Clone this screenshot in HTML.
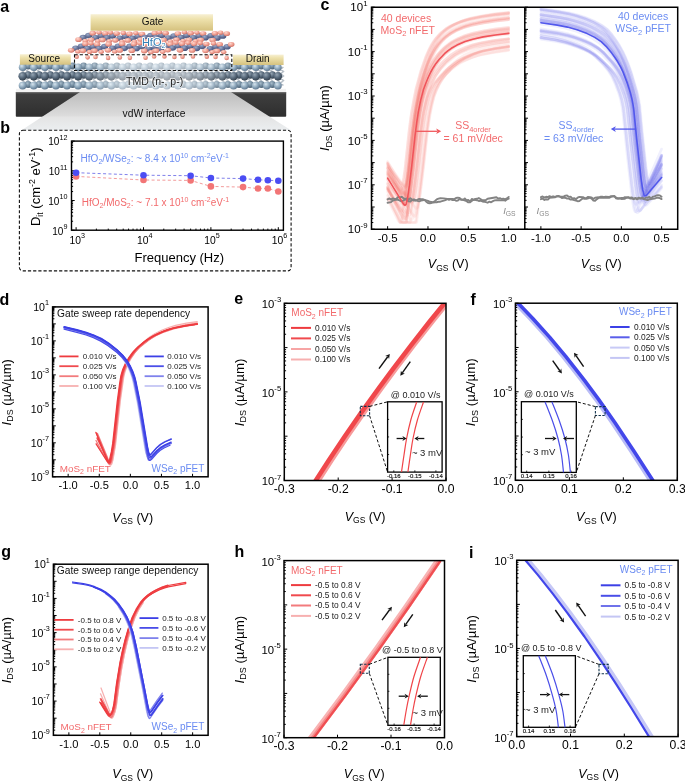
<!DOCTYPE html>
<html><head><meta charset="utf-8"><style>
html,body{margin:0;padding:0;background:#fff;}
svg{display:block;font-family:"Liberation Sans", sans-serif;will-change:transform;}
</style></head><body>
<svg width="685" height="781" viewBox="0 0 685 781">
<rect width="685" height="781" fill="#fff"/>
<defs>
<linearGradient id="gold" x1="0" y1="0" x2="0" y2="1"><stop offset="0" stop-color="#f7f0d4"/><stop offset="0.3" stop-color="#eee2ad"/><stop offset="1" stop-color="#d5c17e"/></linearGradient>
<linearGradient id="subs" x1="0" y1="0" x2="0" y2="1"><stop offset="0" stop-color="#4e4e4e"/><stop offset="0.1" stop-color="#3e3e3e"/><stop offset="1" stop-color="#2e2e2e"/></linearGradient>
<linearGradient id="trap" x1="0" y1="0" x2="0" y2="1"><stop offset="0" stop-color="#bcbcbc"/><stop offset="0.62" stop-color="#dcdcdc"/><stop offset="0.66" stop-color="#e4e4e4"/><stop offset="1" stop-color="#ebeef0"/></linearGradient>
<radialGradient id="aL" cx="0.38" cy="0.32" r="0.7"><stop offset="0" stop-color="#d6e4ee"/><stop offset="0.55" stop-color="#8fa9bd"/><stop offset="1" stop-color="#5f7890"/></radialGradient>
<radialGradient id="aL2" cx="0.38" cy="0.32" r="0.7"><stop offset="0" stop-color="#a8bccb"/><stop offset="0.55" stop-color="#6f889c"/><stop offset="1" stop-color="#4d6274"/></radialGradient>
<radialGradient id="aD" cx="0.38" cy="0.32" r="0.7"><stop offset="0" stop-color="#95a4b2"/><stop offset="0.55" stop-color="#56687a"/><stop offset="1" stop-color="#34414e"/></radialGradient>
<radialGradient id="aP" cx="0.38" cy="0.32" r="0.7"><stop offset="0" stop-color="#ffd8cf"/><stop offset="0.55" stop-color="#f0a092"/><stop offset="1" stop-color="#d07468"/></radialGradient>
<radialGradient id="aB" cx="0.38" cy="0.32" r="0.7"><stop offset="0" stop-color="#a0abc8"/><stop offset="0.55" stop-color="#66749a"/><stop offset="1" stop-color="#47527a"/></radialGradient>
<linearGradient id="wash" x1="0" y1="0" x2="1" y2="0"><stop offset="0" stop-color="#fff" stop-opacity="0"/><stop offset="0.3" stop-color="#fff" stop-opacity="0.5"/><stop offset="0.65" stop-color="#fff" stop-opacity="0.5"/><stop offset="1" stop-color="#fff" stop-opacity="0"/></linearGradient>
</defs>
<rect x="15.8" y="92" width="270.4" height="24.8" rx="0.8" fill="url(#subs)"/>
<rect x="15.8" y="92" width="270.4" height="1.2" fill="#6a6a6a"/>
<polygon points="80,92 231,92 291,130.2 21.5,130.2" fill="url(#trap)"/>
<rect x="16" y="88.8" width="270" height="3.2" fill="#f2f2f2"/>
<path d="M22.6 67L28.1 71.5L22.6 76L28.1 80.5L22.6 85.5M28.1 67L22.6 71.5L28.1 76L22.6 80.5L28.1 85.5M33.7 67L39.2 71.5L33.7 76L39.2 80.5L33.7 85.5M39.2 67L33.7 71.5L39.2 76L33.7 80.5L39.2 85.5M44.8 67L50.3 71.5L44.8 76L50.3 80.5L44.8 85.5M50.3 67L44.8 71.5L50.3 76L44.8 80.5L50.3 85.5M55.9 67L61.4 71.5L55.9 76L61.4 80.5L55.9 85.5M61.4 67L55.9 71.5L61.4 76L55.9 80.5L61.4 85.5M67 67L72.5 71.5L67 76L72.5 80.5L67 85.5M72.5 67L67 71.5L72.5 76L67 80.5L72.5 85.5M78.1 67L83.6 71.5L78.1 76L83.6 80.5L78.1 85.5M83.6 67L78.1 71.5L83.6 76L78.1 80.5L83.6 85.5M89.2 67L94.7 71.5L89.2 76L94.7 80.5L89.2 85.5M94.7 67L89.2 71.5L94.7 76L89.2 80.5L94.7 85.5M100.3 67L105.8 71.5L100.3 76L105.8 80.5L100.3 85.5M105.8 67L100.3 71.5L105.8 76L100.3 80.5L105.8 85.5M111.4 67L116.9 71.5L111.4 76L116.9 80.5L111.4 85.5M116.9 67L111.4 71.5L116.9 76L111.4 80.5L116.9 85.5M122.5 67L128 71.5L122.5 76L128 80.5L122.5 85.5M128 67L122.5 71.5L128 76L122.5 80.5L128 85.5M133.6 67L139.1 71.5L133.6 76L139.1 80.5L133.6 85.5M139.1 67L133.6 71.5L139.1 76L133.6 80.5L139.1 85.5M144.7 67L150.2 71.5L144.7 76L150.2 80.5L144.7 85.5M150.2 67L144.7 71.5L150.2 76L144.7 80.5L150.2 85.5M155.8 67L161.3 71.5L155.8 76L161.3 80.5L155.8 85.5M161.3 67L155.8 71.5L161.3 76L155.8 80.5L161.3 85.5M166.9 67L172.4 71.5L166.9 76L172.4 80.5L166.9 85.5M172.4 67L166.9 71.5L172.4 76L166.9 80.5L172.4 85.5M178 67L183.5 71.5L178 76L183.5 80.5L178 85.5M183.5 67L178 71.5L183.5 76L178 80.5L183.5 85.5M189.1 67L194.6 71.5L189.1 76L194.6 80.5L189.1 85.5M194.6 67L189.1 71.5L194.6 76L189.1 80.5L194.6 85.5M200.2 67L205.7 71.5L200.2 76L205.7 80.5L200.2 85.5M205.7 67L200.2 71.5L205.7 76L200.2 80.5L205.7 85.5M211.3 67L216.8 71.5L211.3 76L216.8 80.5L211.3 85.5M216.8 67L211.3 71.5L216.8 76L211.3 80.5L216.8 85.5M222.4 67L227.9 71.5L222.4 76L227.9 80.5L222.4 85.5M227.9 67L222.4 71.5L227.9 76L222.4 80.5L227.9 85.5M233.5 67L239 71.5L233.5 76L239 80.5L233.5 85.5M239 67L233.5 71.5L239 76L233.5 80.5L239 85.5M244.6 67L250.1 71.5L244.6 76L250.1 80.5L244.6 85.5M250.1 67L244.6 71.5L250.1 76L244.6 80.5L250.1 85.5M255.7 67L261.2 71.5L255.7 76L261.2 80.5L255.7 85.5M261.2 67L255.7 71.5L261.2 76L255.7 80.5L261.2 85.5M266.8 67L272.3 71.5L266.8 76L272.3 80.5L266.8 85.5M272.3 67L266.8 71.5L272.3 76L266.8 80.5L272.3 85.5M277.9 67L283.4 71.5L277.9 76L283.4 80.5L277.9 85.5M283.4 67L277.9 71.5L283.4 76L277.9 80.5L283.4 85.5" stroke="#b8c0c8" stroke-width="1.6" fill="none"/>
<circle cx="28.15" cy="66" r="3.4" fill="url(#aL2)"/><circle cx="39.25" cy="66" r="3.4" fill="url(#aL2)"/><circle cx="50.35" cy="66" r="3.4" fill="url(#aL2)"/><circle cx="61.45" cy="66" r="3.4" fill="url(#aL2)"/><circle cx="72.55" cy="66" r="3.4" fill="url(#aL2)"/><circle cx="83.65" cy="66" r="3.4" fill="url(#aL2)"/><circle cx="94.75" cy="66" r="3.4" fill="url(#aL2)"/><circle cx="105.85" cy="66" r="3.4" fill="url(#aL2)"/><circle cx="116.95" cy="66" r="3.4" fill="url(#aL2)"/><circle cx="128.05" cy="66" r="3.4" fill="url(#aL2)"/><circle cx="139.15" cy="66" r="3.4" fill="url(#aL2)"/><circle cx="150.25" cy="66" r="3.4" fill="url(#aL2)"/><circle cx="161.35" cy="66" r="3.4" fill="url(#aL2)"/><circle cx="172.45" cy="66" r="3.4" fill="url(#aL2)"/><circle cx="183.55" cy="66" r="3.4" fill="url(#aL2)"/><circle cx="194.65" cy="66" r="3.4" fill="url(#aL2)"/><circle cx="205.75" cy="66" r="3.4" fill="url(#aL2)"/><circle cx="216.85" cy="66" r="3.4" fill="url(#aL2)"/><circle cx="227.95" cy="66" r="3.4" fill="url(#aL2)"/><circle cx="239.05" cy="66" r="3.4" fill="url(#aL2)"/><circle cx="250.15" cy="66" r="3.4" fill="url(#aL2)"/><circle cx="261.25" cy="66" r="3.4" fill="url(#aL2)"/><circle cx="272.35" cy="66" r="3.4" fill="url(#aL2)"/>
<circle cx="22.6" cy="67.3" r="3.8" fill="url(#aL)"/><circle cx="33.7" cy="67.3" r="3.8" fill="url(#aL)"/><circle cx="44.8" cy="67.3" r="3.8" fill="url(#aL)"/><circle cx="55.9" cy="67.3" r="3.8" fill="url(#aL)"/><circle cx="67" cy="67.3" r="3.8" fill="url(#aL)"/><circle cx="78.1" cy="67.3" r="3.8" fill="url(#aL)"/><circle cx="89.2" cy="67.3" r="3.8" fill="url(#aL)"/><circle cx="100.3" cy="67.3" r="3.8" fill="url(#aL)"/><circle cx="111.4" cy="67.3" r="3.8" fill="url(#aL)"/><circle cx="122.5" cy="67.3" r="3.8" fill="url(#aL)"/><circle cx="133.6" cy="67.3" r="3.8" fill="url(#aL)"/><circle cx="144.7" cy="67.3" r="3.8" fill="url(#aL)"/><circle cx="155.8" cy="67.3" r="3.8" fill="url(#aL)"/><circle cx="166.9" cy="67.3" r="3.8" fill="url(#aL)"/><circle cx="178" cy="67.3" r="3.8" fill="url(#aL)"/><circle cx="189.1" cy="67.3" r="3.8" fill="url(#aL)"/><circle cx="200.2" cy="67.3" r="3.8" fill="url(#aL)"/><circle cx="211.3" cy="67.3" r="3.8" fill="url(#aL)"/><circle cx="222.4" cy="67.3" r="3.8" fill="url(#aL)"/><circle cx="233.5" cy="67.3" r="3.8" fill="url(#aL)"/><circle cx="244.6" cy="67.3" r="3.8" fill="url(#aL)"/><circle cx="255.7" cy="67.3" r="3.8" fill="url(#aL)"/><circle cx="266.8" cy="67.3" r="3.8" fill="url(#aL)"/><circle cx="277.9" cy="67.3" r="3.8" fill="url(#aL)"/>
<circle cx="28.15" cy="75" r="3.7" fill="url(#aD)"/><circle cx="39.25" cy="75" r="3.7" fill="url(#aD)"/><circle cx="50.35" cy="75" r="3.7" fill="url(#aD)"/><circle cx="61.45" cy="75" r="3.7" fill="url(#aD)"/><circle cx="72.55" cy="75" r="3.7" fill="url(#aD)"/><circle cx="83.65" cy="75" r="3.7" fill="url(#aD)"/><circle cx="94.75" cy="75" r="3.7" fill="url(#aD)"/><circle cx="105.85" cy="75" r="3.7" fill="url(#aD)"/><circle cx="116.95" cy="75" r="3.7" fill="url(#aD)"/><circle cx="128.05" cy="75" r="3.7" fill="url(#aD)"/><circle cx="139.15" cy="75" r="3.7" fill="url(#aD)"/><circle cx="150.25" cy="75" r="3.7" fill="url(#aD)"/><circle cx="161.35" cy="75" r="3.7" fill="url(#aD)"/><circle cx="172.45" cy="75" r="3.7" fill="url(#aD)"/><circle cx="183.55" cy="75" r="3.7" fill="url(#aD)"/><circle cx="194.65" cy="75" r="3.7" fill="url(#aD)"/><circle cx="205.75" cy="75" r="3.7" fill="url(#aD)"/><circle cx="216.85" cy="75" r="3.7" fill="url(#aD)"/><circle cx="227.95" cy="75" r="3.7" fill="url(#aD)"/><circle cx="239.05" cy="75" r="3.7" fill="url(#aD)"/><circle cx="250.15" cy="75" r="3.7" fill="url(#aD)"/><circle cx="261.25" cy="75" r="3.7" fill="url(#aD)"/><circle cx="272.35" cy="75" r="3.7" fill="url(#aD)"/>
<circle cx="22.6" cy="76.2" r="4.2" fill="url(#aD)"/><circle cx="33.7" cy="76.2" r="4.2" fill="url(#aD)"/><circle cx="44.8" cy="76.2" r="4.2" fill="url(#aD)"/><circle cx="55.9" cy="76.2" r="4.2" fill="url(#aD)"/><circle cx="67" cy="76.2" r="4.2" fill="url(#aD)"/><circle cx="78.1" cy="76.2" r="4.2" fill="url(#aD)"/><circle cx="89.2" cy="76.2" r="4.2" fill="url(#aD)"/><circle cx="100.3" cy="76.2" r="4.2" fill="url(#aD)"/><circle cx="111.4" cy="76.2" r="4.2" fill="url(#aD)"/><circle cx="122.5" cy="76.2" r="4.2" fill="url(#aD)"/><circle cx="133.6" cy="76.2" r="4.2" fill="url(#aD)"/><circle cx="144.7" cy="76.2" r="4.2" fill="url(#aD)"/><circle cx="155.8" cy="76.2" r="4.2" fill="url(#aD)"/><circle cx="166.9" cy="76.2" r="4.2" fill="url(#aD)"/><circle cx="178" cy="76.2" r="4.2" fill="url(#aD)"/><circle cx="189.1" cy="76.2" r="4.2" fill="url(#aD)"/><circle cx="200.2" cy="76.2" r="4.2" fill="url(#aD)"/><circle cx="211.3" cy="76.2" r="4.2" fill="url(#aD)"/><circle cx="222.4" cy="76.2" r="4.2" fill="url(#aD)"/><circle cx="233.5" cy="76.2" r="4.2" fill="url(#aD)"/><circle cx="244.6" cy="76.2" r="4.2" fill="url(#aD)"/><circle cx="255.7" cy="76.2" r="4.2" fill="url(#aD)"/><circle cx="266.8" cy="76.2" r="4.2" fill="url(#aD)"/><circle cx="277.9" cy="76.2" r="4.2" fill="url(#aD)"/>
<circle cx="28.15" cy="84.5" r="3.5" fill="url(#aL2)"/><circle cx="39.25" cy="84.5" r="3.5" fill="url(#aL2)"/><circle cx="50.35" cy="84.5" r="3.5" fill="url(#aL2)"/><circle cx="61.45" cy="84.5" r="3.5" fill="url(#aL2)"/><circle cx="72.55" cy="84.5" r="3.5" fill="url(#aL2)"/><circle cx="83.65" cy="84.5" r="3.5" fill="url(#aL2)"/><circle cx="94.75" cy="84.5" r="3.5" fill="url(#aL2)"/><circle cx="105.85" cy="84.5" r="3.5" fill="url(#aL2)"/><circle cx="116.95" cy="84.5" r="3.5" fill="url(#aL2)"/><circle cx="128.05" cy="84.5" r="3.5" fill="url(#aL2)"/><circle cx="139.15" cy="84.5" r="3.5" fill="url(#aL2)"/><circle cx="150.25" cy="84.5" r="3.5" fill="url(#aL2)"/><circle cx="161.35" cy="84.5" r="3.5" fill="url(#aL2)"/><circle cx="172.45" cy="84.5" r="3.5" fill="url(#aL2)"/><circle cx="183.55" cy="84.5" r="3.5" fill="url(#aL2)"/><circle cx="194.65" cy="84.5" r="3.5" fill="url(#aL2)"/><circle cx="205.75" cy="84.5" r="3.5" fill="url(#aL2)"/><circle cx="216.85" cy="84.5" r="3.5" fill="url(#aL2)"/><circle cx="227.95" cy="84.5" r="3.5" fill="url(#aL2)"/><circle cx="239.05" cy="84.5" r="3.5" fill="url(#aL2)"/><circle cx="250.15" cy="84.5" r="3.5" fill="url(#aL2)"/><circle cx="261.25" cy="84.5" r="3.5" fill="url(#aL2)"/><circle cx="272.35" cy="84.5" r="3.5" fill="url(#aL2)"/>
<circle cx="22.6" cy="85.6" r="3.9" fill="url(#aL)"/><circle cx="33.7" cy="85.6" r="3.9" fill="url(#aL)"/><circle cx="44.8" cy="85.6" r="3.9" fill="url(#aL)"/><circle cx="55.9" cy="85.6" r="3.9" fill="url(#aL)"/><circle cx="67" cy="85.6" r="3.9" fill="url(#aL)"/><circle cx="78.1" cy="85.6" r="3.9" fill="url(#aL)"/><circle cx="89.2" cy="85.6" r="3.9" fill="url(#aL)"/><circle cx="100.3" cy="85.6" r="3.9" fill="url(#aL)"/><circle cx="111.4" cy="85.6" r="3.9" fill="url(#aL)"/><circle cx="122.5" cy="85.6" r="3.9" fill="url(#aL)"/><circle cx="133.6" cy="85.6" r="3.9" fill="url(#aL)"/><circle cx="144.7" cy="85.6" r="3.9" fill="url(#aL)"/><circle cx="155.8" cy="85.6" r="3.9" fill="url(#aL)"/><circle cx="166.9" cy="85.6" r="3.9" fill="url(#aL)"/><circle cx="178" cy="85.6" r="3.9" fill="url(#aL)"/><circle cx="189.1" cy="85.6" r="3.9" fill="url(#aL)"/><circle cx="200.2" cy="85.6" r="3.9" fill="url(#aL)"/><circle cx="211.3" cy="85.6" r="3.9" fill="url(#aL)"/><circle cx="222.4" cy="85.6" r="3.9" fill="url(#aL)"/><circle cx="233.5" cy="85.6" r="3.9" fill="url(#aL)"/><circle cx="244.6" cy="85.6" r="3.9" fill="url(#aL)"/><circle cx="255.7" cy="85.6" r="3.9" fill="url(#aL)"/><circle cx="266.8" cy="85.6" r="3.9" fill="url(#aL)"/><circle cx="277.9" cy="85.6" r="3.9" fill="url(#aL)"/>
<rect x="78" y="60" width="160" height="30" fill="url(#wash)"/>
<path d="M78.72 39.25L92.72 34.05M91.26 39.47L105.26 34.27M102.66 39.53L116.66 34.33M115.48 39.93L129.48 34.73M128 40.05L142 34.85M140.76 39.15L154.76 33.95M151.63 39.22L165.63 34.02M163.89 39.68L177.89 34.48M176.68 39.16L190.68 33.96M189.09 39.53L203.09 34.33M200.93 39.4L214.93 34.2M212.79 39.67L226.79 34.47M71.37 49.89L85.37 44.69M83.07 50.36L97.07 45.16M94.66 50.27L108.66 45.07M108.2 49.91L122.2 44.71M119.93 50.06L133.93 44.86M131.96 50.26L145.96 45.06M144.44 50.59L158.44 45.39M156.22 50.27L170.22 45.07M168.07 49.72L182.07 44.52M180.21 49.85L194.21 44.65M192.33 50.05L206.33 44.85M205.71 50.46L219.71 45.26M217.17 50.48L231.17 45.28" stroke="#7a86a8" stroke-width="2.2" fill="none"/>
<ellipse cx="83.12" cy="37.55" rx="3.6" ry="2.8" fill="url(#aB)"/><ellipse cx="88.72" cy="35.55" rx="3.6" ry="2.8" fill="url(#aB)"/><ellipse cx="78.52" cy="39.65" rx="3.3" ry="2.4" fill="url(#aP)"/><ellipse cx="92.72" cy="33.25" rx="3.3" ry="2.4" fill="url(#aP)"/><ellipse cx="85.22" cy="40.85" rx="2.8" ry="2.1" fill="url(#aP)"/><ellipse cx="95.66" cy="37.77" rx="3.6" ry="2.8" fill="url(#aB)"/><ellipse cx="101.26" cy="35.77" rx="3.6" ry="2.8" fill="url(#aB)"/><ellipse cx="91.06" cy="39.87" rx="3.3" ry="2.4" fill="url(#aP)"/><ellipse cx="105.26" cy="33.47" rx="3.3" ry="2.4" fill="url(#aP)"/><ellipse cx="99.06" cy="32.47" rx="2.8" ry="2.1" fill="url(#aP)"/><ellipse cx="97.76" cy="41.07" rx="2.8" ry="2.1" fill="url(#aP)"/><ellipse cx="107.06" cy="37.83" rx="3.6" ry="2.8" fill="url(#aB)"/><ellipse cx="112.66" cy="35.83" rx="3.6" ry="2.8" fill="url(#aB)"/><ellipse cx="102.46" cy="39.93" rx="3.3" ry="2.4" fill="url(#aP)"/><ellipse cx="116.66" cy="33.53" rx="3.3" ry="2.4" fill="url(#aP)"/><ellipse cx="110.46" cy="32.53" rx="2.8" ry="2.1" fill="url(#aP)"/><ellipse cx="109.16" cy="41.13" rx="2.8" ry="2.1" fill="url(#aP)"/><ellipse cx="119.88" cy="38.23" rx="3.6" ry="2.8" fill="url(#aB)"/><ellipse cx="125.48" cy="36.23" rx="3.6" ry="2.8" fill="url(#aB)"/><ellipse cx="115.28" cy="40.33" rx="3.3" ry="2.4" fill="url(#aP)"/><ellipse cx="129.48" cy="33.93" rx="3.3" ry="2.4" fill="url(#aP)"/><ellipse cx="123.28" cy="32.93" rx="2.8" ry="2.1" fill="url(#aP)"/><ellipse cx="121.98" cy="41.53" rx="2.8" ry="2.1" fill="url(#aP)"/><ellipse cx="132.4" cy="38.35" rx="3.6" ry="2.8" fill="url(#aB)"/><ellipse cx="138" cy="36.35" rx="3.6" ry="2.8" fill="url(#aB)"/><ellipse cx="127.8" cy="40.45" rx="3.3" ry="2.4" fill="url(#aP)"/><ellipse cx="142" cy="34.05" rx="3.3" ry="2.4" fill="url(#aP)"/><ellipse cx="135.8" cy="33.05" rx="2.8" ry="2.1" fill="url(#aP)"/><ellipse cx="134.5" cy="41.65" rx="2.8" ry="2.1" fill="url(#aP)"/><ellipse cx="145.16" cy="37.45" rx="3.6" ry="2.8" fill="url(#aB)"/><ellipse cx="150.76" cy="35.45" rx="3.6" ry="2.8" fill="url(#aB)"/><ellipse cx="140.56" cy="39.55" rx="3.3" ry="2.4" fill="url(#aP)"/><ellipse cx="154.76" cy="33.15" rx="3.3" ry="2.4" fill="url(#aP)"/><ellipse cx="147.26" cy="40.75" rx="2.8" ry="2.1" fill="url(#aP)"/><ellipse cx="156.03" cy="37.52" rx="3.6" ry="2.8" fill="url(#aB)"/><ellipse cx="161.63" cy="35.52" rx="3.6" ry="2.8" fill="url(#aB)"/><ellipse cx="151.43" cy="39.62" rx="3.3" ry="2.4" fill="url(#aP)"/><ellipse cx="165.63" cy="33.22" rx="3.3" ry="2.4" fill="url(#aP)"/><ellipse cx="159.43" cy="32.22" rx="2.8" ry="2.1" fill="url(#aP)"/><ellipse cx="168.29" cy="37.98" rx="3.6" ry="2.8" fill="url(#aB)"/><ellipse cx="173.89" cy="35.98" rx="3.6" ry="2.8" fill="url(#aB)"/><ellipse cx="163.69" cy="40.08" rx="3.3" ry="2.4" fill="url(#aP)"/><ellipse cx="177.89" cy="33.68" rx="3.3" ry="2.4" fill="url(#aP)"/><ellipse cx="170.39" cy="41.28" rx="2.8" ry="2.1" fill="url(#aP)"/><ellipse cx="181.08" cy="37.46" rx="3.6" ry="2.8" fill="url(#aB)"/><ellipse cx="186.68" cy="35.46" rx="3.6" ry="2.8" fill="url(#aB)"/><ellipse cx="176.48" cy="39.56" rx="3.3" ry="2.4" fill="url(#aP)"/><ellipse cx="190.68" cy="33.16" rx="3.3" ry="2.4" fill="url(#aP)"/><ellipse cx="184.48" cy="32.16" rx="2.8" ry="2.1" fill="url(#aP)"/><ellipse cx="183.18" cy="40.76" rx="2.8" ry="2.1" fill="url(#aP)"/><ellipse cx="193.49" cy="37.83" rx="3.6" ry="2.8" fill="url(#aB)"/><ellipse cx="199.09" cy="35.83" rx="3.6" ry="2.8" fill="url(#aB)"/><ellipse cx="188.89" cy="39.93" rx="3.3" ry="2.4" fill="url(#aP)"/><ellipse cx="203.09" cy="33.53" rx="3.3" ry="2.4" fill="url(#aP)"/><ellipse cx="196.89" cy="32.53" rx="2.8" ry="2.1" fill="url(#aP)"/><ellipse cx="195.59" cy="41.13" rx="2.8" ry="2.1" fill="url(#aP)"/><ellipse cx="205.33" cy="37.7" rx="3.6" ry="2.8" fill="url(#aB)"/><ellipse cx="210.93" cy="35.7" rx="3.6" ry="2.8" fill="url(#aB)"/><ellipse cx="200.73" cy="39.8" rx="3.3" ry="2.4" fill="url(#aP)"/><ellipse cx="214.93" cy="33.4" rx="3.3" ry="2.4" fill="url(#aP)"/><ellipse cx="217.19" cy="37.97" rx="3.6" ry="2.8" fill="url(#aB)"/><ellipse cx="222.79" cy="35.97" rx="3.6" ry="2.8" fill="url(#aB)"/><ellipse cx="212.59" cy="40.07" rx="3.3" ry="2.4" fill="url(#aP)"/><ellipse cx="226.79" cy="33.67" rx="3.3" ry="2.4" fill="url(#aP)"/><ellipse cx="220.59" cy="32.67" rx="2.8" ry="2.1" fill="url(#aP)"/><ellipse cx="75.77" cy="48.19" rx="3.6" ry="2.8" fill="url(#aB)"/><ellipse cx="81.37" cy="46.19" rx="3.6" ry="2.8" fill="url(#aB)"/><ellipse cx="71.17" cy="50.29" rx="3.3" ry="2.4" fill="url(#aP)"/><ellipse cx="85.37" cy="43.89" rx="3.3" ry="2.4" fill="url(#aP)"/><ellipse cx="77.87" cy="51.49" rx="2.8" ry="2.1" fill="url(#aP)"/><ellipse cx="87.47" cy="48.66" rx="3.6" ry="2.8" fill="url(#aB)"/><ellipse cx="93.07" cy="46.66" rx="3.6" ry="2.8" fill="url(#aB)"/><ellipse cx="82.87" cy="50.76" rx="3.3" ry="2.4" fill="url(#aP)"/><ellipse cx="97.07" cy="44.36" rx="3.3" ry="2.4" fill="url(#aP)"/><ellipse cx="90.87" cy="43.36" rx="2.8" ry="2.1" fill="url(#aP)"/><ellipse cx="89.57" cy="51.96" rx="2.8" ry="2.1" fill="url(#aP)"/><ellipse cx="99.06" cy="48.57" rx="3.6" ry="2.8" fill="url(#aB)"/><ellipse cx="104.66" cy="46.57" rx="3.6" ry="2.8" fill="url(#aB)"/><ellipse cx="94.46" cy="50.67" rx="3.3" ry="2.4" fill="url(#aP)"/><ellipse cx="108.66" cy="44.27" rx="3.3" ry="2.4" fill="url(#aP)"/><ellipse cx="101.16" cy="51.87" rx="2.8" ry="2.1" fill="url(#aP)"/><ellipse cx="112.6" cy="48.21" rx="3.6" ry="2.8" fill="url(#aB)"/><ellipse cx="118.2" cy="46.21" rx="3.6" ry="2.8" fill="url(#aB)"/><ellipse cx="108" cy="50.31" rx="3.3" ry="2.4" fill="url(#aP)"/><ellipse cx="122.2" cy="43.91" rx="3.3" ry="2.4" fill="url(#aP)"/><ellipse cx="114.7" cy="51.51" rx="2.8" ry="2.1" fill="url(#aP)"/><ellipse cx="124.33" cy="48.36" rx="3.6" ry="2.8" fill="url(#aB)"/><ellipse cx="129.93" cy="46.36" rx="3.6" ry="2.8" fill="url(#aB)"/><ellipse cx="119.73" cy="50.46" rx="3.3" ry="2.4" fill="url(#aP)"/><ellipse cx="133.93" cy="44.06" rx="3.3" ry="2.4" fill="url(#aP)"/><ellipse cx="136.36" cy="48.56" rx="3.6" ry="2.8" fill="url(#aB)"/><ellipse cx="141.96" cy="46.56" rx="3.6" ry="2.8" fill="url(#aB)"/><ellipse cx="131.76" cy="50.66" rx="3.3" ry="2.4" fill="url(#aP)"/><ellipse cx="145.96" cy="44.26" rx="3.3" ry="2.4" fill="url(#aP)"/><ellipse cx="139.76" cy="43.26" rx="2.8" ry="2.1" fill="url(#aP)"/><ellipse cx="148.84" cy="48.89" rx="3.6" ry="2.8" fill="url(#aB)"/><ellipse cx="154.44" cy="46.89" rx="3.6" ry="2.8" fill="url(#aB)"/><ellipse cx="144.24" cy="50.99" rx="3.3" ry="2.4" fill="url(#aP)"/><ellipse cx="158.44" cy="44.59" rx="3.3" ry="2.4" fill="url(#aP)"/><ellipse cx="150.94" cy="52.19" rx="2.8" ry="2.1" fill="url(#aP)"/><ellipse cx="160.62" cy="48.57" rx="3.6" ry="2.8" fill="url(#aB)"/><ellipse cx="166.22" cy="46.57" rx="3.6" ry="2.8" fill="url(#aB)"/><ellipse cx="156.02" cy="50.67" rx="3.3" ry="2.4" fill="url(#aP)"/><ellipse cx="170.22" cy="44.27" rx="3.3" ry="2.4" fill="url(#aP)"/><ellipse cx="164.02" cy="43.27" rx="2.8" ry="2.1" fill="url(#aP)"/><ellipse cx="162.72" cy="51.87" rx="2.8" ry="2.1" fill="url(#aP)"/><ellipse cx="172.47" cy="48.02" rx="3.6" ry="2.8" fill="url(#aB)"/><ellipse cx="178.07" cy="46.02" rx="3.6" ry="2.8" fill="url(#aB)"/><ellipse cx="167.87" cy="50.12" rx="3.3" ry="2.4" fill="url(#aP)"/><ellipse cx="182.07" cy="43.72" rx="3.3" ry="2.4" fill="url(#aP)"/><ellipse cx="175.87" cy="42.72" rx="2.8" ry="2.1" fill="url(#aP)"/><ellipse cx="184.61" cy="48.15" rx="3.6" ry="2.8" fill="url(#aB)"/><ellipse cx="190.21" cy="46.15" rx="3.6" ry="2.8" fill="url(#aB)"/><ellipse cx="180.01" cy="50.25" rx="3.3" ry="2.4" fill="url(#aP)"/><ellipse cx="194.21" cy="43.85" rx="3.3" ry="2.4" fill="url(#aP)"/><ellipse cx="188.01" cy="42.85" rx="2.8" ry="2.1" fill="url(#aP)"/><ellipse cx="196.73" cy="48.35" rx="3.6" ry="2.8" fill="url(#aB)"/><ellipse cx="202.33" cy="46.35" rx="3.6" ry="2.8" fill="url(#aB)"/><ellipse cx="192.13" cy="50.45" rx="3.3" ry="2.4" fill="url(#aP)"/><ellipse cx="206.33" cy="44.05" rx="3.3" ry="2.4" fill="url(#aP)"/><ellipse cx="200.13" cy="43.05" rx="2.8" ry="2.1" fill="url(#aP)"/><ellipse cx="210.11" cy="48.76" rx="3.6" ry="2.8" fill="url(#aB)"/><ellipse cx="215.71" cy="46.76" rx="3.6" ry="2.8" fill="url(#aB)"/><ellipse cx="205.51" cy="50.86" rx="3.3" ry="2.4" fill="url(#aP)"/><ellipse cx="219.71" cy="44.46" rx="3.3" ry="2.4" fill="url(#aP)"/><ellipse cx="213.51" cy="43.46" rx="2.8" ry="2.1" fill="url(#aP)"/><ellipse cx="212.21" cy="52.06" rx="2.8" ry="2.1" fill="url(#aP)"/><ellipse cx="221.57" cy="48.78" rx="3.6" ry="2.8" fill="url(#aB)"/><ellipse cx="227.17" cy="46.78" rx="3.6" ry="2.8" fill="url(#aB)"/><ellipse cx="216.97" cy="50.88" rx="3.3" ry="2.4" fill="url(#aP)"/><ellipse cx="231.17" cy="44.48" rx="3.3" ry="2.4" fill="url(#aP)"/><ellipse cx="223.67" cy="52.08" rx="2.8" ry="2.1" fill="url(#aP)"/>
<circle cx="76.7" cy="56.77" r="2.3" fill="url(#aP)"/><circle cx="87.61" cy="57.34" r="2.3" fill="url(#aP)"/><circle cx="95.5" cy="57.07" r="2.3" fill="url(#aP)"/><circle cx="108.09" cy="57.92" r="2.3" fill="url(#aP)"/><circle cx="119.84" cy="57.39" r="2.3" fill="url(#aP)"/><circle cx="129.88" cy="57.84" r="2.3" fill="url(#aP)"/><circle cx="145.56" cy="57.68" r="2.3" fill="url(#aP)"/><circle cx="154.12" cy="56.57" r="2.3" fill="url(#aP)"/><circle cx="164.44" cy="56.51" r="2.3" fill="url(#aP)"/><circle cx="174.39" cy="56.94" r="2.3" fill="url(#aP)"/><circle cx="182.5" cy="56.64" r="2.3" fill="url(#aP)"/><circle cx="192.96" cy="56.44" r="2.3" fill="url(#aP)"/><circle cx="206.84" cy="56.64" r="2.3" fill="url(#aP)"/><circle cx="215.53" cy="56.98" r="2.3" fill="url(#aP)"/><circle cx="226.65" cy="57.99" r="2.3" fill="url(#aP)"/>
<rect x="90.6" y="14.2" width="122.4" height="16.5" fill="url(#gold)"/>
<rect x="19.9" y="54.2" width="50.9" height="10.5" fill="url(#gold)"/>
<rect x="233" y="54.6" width="50.6" height="10.4" fill="url(#gold)"/>
<text x="152.5" y="24.5" font-size="10" text-anchor="middle" fill="#111" font-weight="normal" font-style="normal" >Gate</text>
<text x="44.2" y="62.1" font-size="10" text-anchor="middle" fill="#111" font-weight="normal" font-style="normal" >Source</text>
<text x="257.7" y="62" font-size="10" text-anchor="middle" fill="#111" font-weight="normal" font-style="normal" >Drain</text>
<text x="153.8" y="45.7" font-size="11" text-anchor="middle" fill="#3480b6" stroke="#fff" stroke-width="1.8" paint-order="stroke" stroke-linejoin="round">HfO<tspan font-size="7.5" dy="2.5">2</tspan></text>
<text x="154.6" y="84.6" font-size="10.5" text-anchor="middle" fill="#222" stroke="#fff" stroke-width="1.5" stroke-opacity="0.55" paint-order="stroke">TMD (n-, p-)</text>
<rect x="74.5" y="54.8" width="157.3" height="15.7" fill="none" stroke="#111" stroke-width="1.1" stroke-dasharray="3.2 2"/>
<text x="154" y="117.3" font-size="10.3" text-anchor="middle" fill="#111" font-weight="normal" font-style="normal" >vdW interface</text>
<text x="0.3" y="11.8" font-size="16" text-anchor="start" fill="#000" font-weight="bold" font-style="normal" >a</text>
<text x="0.2" y="133.3" font-size="16" text-anchor="start" fill="#000" font-weight="bold" font-style="normal" >b</text>
<rect x="19.4" y="130.2" width="271.7" height="140.7" rx="3.5" fill="#fff" stroke="#111" stroke-width="1.1" stroke-dasharray="3.2 2"/>
<path d="M76.1 230.2v-3M96.39 230.2v-1.6M108.26 230.2v-1.6M116.68 230.2v-1.6M123.21 230.2v-1.6M128.55 230.2v-1.6M133.06 230.2v-1.6M136.97 230.2v-1.6M140.42 230.2v-1.6M143.5 230.2v-3M163.79 230.2v-1.6M175.66 230.2v-1.6M184.08 230.2v-1.6M190.61 230.2v-1.6M195.95 230.2v-1.6M200.46 230.2v-1.6M204.37 230.2v-1.6M207.82 230.2v-1.6M210.9 230.2v-3M231.19 230.2v-1.6M243.06 230.2v-1.6M251.48 230.2v-1.6M258.01 230.2v-1.6M263.35 230.2v-1.6M267.86 230.2v-1.6M271.77 230.2v-1.6M275.22 230.2v-1.6M278.3 230.2v-3" stroke="#000" stroke-width="1" fill="none"/>
<path d="M71.5 230.2h3.2M71.5 221.26h1.6M71.5 216.03h1.6M71.5 212.32h1.6M71.5 209.44h1.6M71.5 207.09h1.6M71.5 205.1h1.6M71.5 203.38h1.6M71.5 201.86h1.6M71.5 200.5h3.2M71.5 191.56h1.6M71.5 186.33h1.6M71.5 182.62h1.6M71.5 179.74h1.6M71.5 177.39h1.6M71.5 175.4h1.6M71.5 173.68h1.6M71.5 172.16h1.6M71.5 170.8h3.2M71.5 161.86h1.6M71.5 156.63h1.6M71.5 152.92h1.6M71.5 150.04h1.6M71.5 147.69h1.6M71.5 145.7h1.6M71.5 143.98h1.6M71.5 142.46h1.6M71.5 141.1h3.2" stroke="#000" stroke-width="1.0" fill="none"/>
<rect x="71.5" y="141.1" width="211.9" height="89.1" fill="none" stroke="#000" stroke-width="1.4"/>
<text x="77.3" y="243.8" font-size="10.3" text-anchor="middle" fill="#000">10<tspan font-size="7.2" dy="-5.4">3</tspan></text>
<text x="144.7" y="243.8" font-size="10.3" text-anchor="middle" fill="#000">10<tspan font-size="7.2" dy="-5.4">4</tspan></text>
<text x="212.1" y="243.8" font-size="10.3" text-anchor="middle" fill="#000">10<tspan font-size="7.2" dy="-5.4">5</tspan></text>
<text x="279.5" y="243.8" font-size="10.3" text-anchor="middle" fill="#000">10<tspan font-size="7.2" dy="-5.4">6</tspan></text>
<text x="67.4" y="234.5" font-size="10" text-anchor="end" fill="#000">10<tspan font-size="7.2" dy="-5.4">9</tspan></text>
<text x="67.4" y="204.8" font-size="10" text-anchor="end" fill="#000">10<tspan font-size="7.2" dy="-5.4">10</tspan></text>
<text x="67.4" y="175.1" font-size="10" text-anchor="end" fill="#000">10<tspan font-size="7.2" dy="-5.4">11</tspan></text>
<text x="67.4" y="145.4" font-size="10" text-anchor="end" fill="#000">10<tspan font-size="7.2" dy="-5.4">12</tspan></text>
<text x="179.3" y="262.2" font-size="13" text-anchor="middle" fill="#000" font-weight="normal" font-style="normal" >Frequency (Hz)</text>
<text transform="translate(40.3 186.8) rotate(-90)" font-size="13" text-anchor="middle">D<tspan font-size="8.8" dy="2.7">it</tspan><tspan dy="-2.7"> (cm</tspan><tspan font-size="8.8" dy="-4.9">-2</tspan><tspan dy="4.9"> eV</tspan><tspan font-size="8.8" dy="-4.9">-1</tspan><tspan dy="4.9">)</tspan></text>
<path d="M76.1 176.4L143.5 180L190.6 180.4L210.9 186.4L243.1 187.1L258 188.5L267.9 188.5L278.3 191.5" fill="none" stroke="#f08a8a" stroke-width="1" stroke-dasharray="3 2.4" opacity="0.85"/>
<path d="M76.1 172.7L143.5 175.2L190.6 175.7L210.9 178L243.1 178.6L258 179.8L278.3 180.7" fill="none" stroke="#6a6ae6" stroke-width="1" stroke-dasharray="3 2.4" opacity="0.85"/>
<circle cx="76.1" cy="176.4" r="3.3" fill="#f27576"/>
<circle cx="143.5" cy="180" r="3.3" fill="#f27576"/>
<circle cx="190.61" cy="180.4" r="3.3" fill="#f27576"/>
<circle cx="210.9" cy="186.4" r="3.3" fill="#f27576"/>
<circle cx="243.06" cy="187.1" r="3.3" fill="#f27576"/>
<circle cx="258.01" cy="188.5" r="3.3" fill="#f27576"/>
<circle cx="267.86" cy="188.5" r="3.3" fill="#f27576"/>
<circle cx="278.3" cy="191.5" r="3.3" fill="#f27576"/>
<circle cx="76.1" cy="172.7" r="3.3" fill="#4b4df3"/>
<circle cx="143.5" cy="175.2" r="3.3" fill="#4b4df3"/>
<circle cx="190.61" cy="175.7" r="3.3" fill="#4b4df3"/>
<circle cx="210.9" cy="178" r="3.3" fill="#4b4df3"/>
<circle cx="243.06" cy="178.6" r="3.3" fill="#4b4df3"/>
<circle cx="258.01" cy="179.8" r="3.3" fill="#4b4df3"/>
<circle cx="267.86" cy="180.3" r="3.3" fill="#4b4df3"/>
<circle cx="278.3" cy="180.7" r="3.3" fill="#4b4df3"/>
<text x="80.6" y="161.8" font-size="10" fill="#6b8cf2">HfO<tspan font-size="7" dy="2.2">2</tspan><tspan dy="-2.2">/WSe</tspan><tspan font-size="7" dy="2.2">2</tspan><tspan dy="-2.2">: ~ 8.4 x 10</tspan><tspan font-size="7" dy="-4">10</tspan><tspan dy="4"> cm</tspan><tspan font-size="7" dy="-4">-2</tspan><tspan dy="4">eV</tspan><tspan font-size="7" dy="-4">-1</tspan></text>
<text x="81.8" y="206.2" font-size="10" fill="#f26a6c">HfO<tspan font-size="7" dy="2.2">2</tspan><tspan dy="-2.2">/MoS</tspan><tspan font-size="7" dy="2.2">2</tspan><tspan dy="-2.2">: ~ 7.1 x 10</tspan><tspan font-size="7" dy="-4">10</tspan><tspan dy="4"> cm</tspan><tspan font-size="7" dy="-4">-2</tspan><tspan dy="4">eV</tspan><tspan font-size="7" dy="-4">-1</tspan></text>
<text x="320.4" y="9.9" font-size="16" text-anchor="start" fill="#000" font-weight="bold" font-style="normal" >c</text>
<path d="M387.6 172L400.5 195L401.4 196L402.2 196.6L403 196.2L403.4 195.5L404.6 190.7L406.6 176.6L411.4 131.8L413.5 116.1L415.5 103.5L417.9 91L419.5 84.2L422.3 73.9L425.2 64.9L427.6 58L430 52L432.4 46.9L434.8 42.5L437.7 38.3L440.1 35.4L442.9 32.5L448.6 27.8L454.6 24.4L462.7 21L470.3 18.8L482.4 16.3L494.9 14.4L508.7 12.9" fill="none" stroke="#f2645c" stroke-width="2.6" stroke-opacity="0.105" stroke-linejoin="round" stroke-linecap="round" />
<path d="M387.6 165.4L403 186.4L404.2 187.5L405 187.6L405.8 186.8L406.2 185.9L407.4 180.8L409 169.7L413.1 132.1L415.5 113.5L417.9 99.2L420.3 87.4L425.2 69.6L430 55.4L432.4 49.6L434.8 44.6L437.3 40.4L440.1 36.5L444.9 31.2L450.6 26.7L457 23.1L464.7 20L472 17.8L483.7 15.5L495.8 13.6L508.7 12.2" fill="none" stroke="#f2645c" stroke-width="2.6" stroke-opacity="0.105" stroke-linejoin="round" stroke-linecap="round" />
<path d="M387.6 161.6L399.7 182.2L400.5 183.1L401.4 183.6L402.2 183L402.6 182.2L403.8 177.3L405 169.2L409 131.9L411.4 113.5L413.9 99.4L416.3 87.8L421.1 70.5L426 56.8L428.4 51.2L430.8 46.4L433.2 42.4L436 38.5L441.3 33L446.9 28.6L453.8 25L461.5 21.9L469.1 19.8L482 17.3L494.5 15.5L508.7 14" fill="none" stroke="#f2645c" stroke-width="2.6" stroke-opacity="0.105" stroke-linejoin="round" stroke-linecap="round" />
<path d="M387.6 187.4L397.3 205.9L399.7 210.1L400.5 211L401.4 211.3L402.2 210.2L402.6 209L404.2 200.2L406.2 184.3L413.1 122.9L415.1 108.9L417.9 93.8L419.5 86.7L421.5 79.2L424.3 69.9L426.8 62.8L429.2 56.5L431.6 51.1L434 46.5L436.9 42L439.3 38.8L441.7 36.1L444.5 33.4L447.7 30.8L453.4 27.3L461.9 23.6L469.9 21.1L481.2 18.7L494.1 16.7L508.7 15.1" fill="none" stroke="#f2645c" stroke-width="2.6" stroke-opacity="0.105" stroke-linejoin="round" stroke-linecap="round" />
<path d="M387.6 170.7L398.9 189.2L399.7 190.1L400.5 190.4L401.4 189.6L401.8 188.6L403 183.3L404.6 171.9L409 130.7L411 115.3L413.1 102.9L415.9 88.8L420.3 72.5L425.2 58.1L427.6 52.3L430 47.2L432.4 42.9L435.2 38.8L440.5 33L446.1 28.5L449 26.7L452.6 24.9L461.1 21.4L468.3 19.4L481.6 16.7L494.1 14.9L508.7 13.4" fill="none" stroke="#f2645c" stroke-width="2.6" stroke-opacity="0.105" stroke-linejoin="round" stroke-linecap="round" />
<path d="M387.6 178L397.3 190.7L399.7 193.5L400.5 194.1L401.4 194.1L402.2 193.2L402.6 192.2L403.8 186.8L405.4 175.6L410.2 131.1L411.8 118.5L413.9 105.4L416.7 90.7L418.3 83.9L421.1 73.7L426 58.9L428.4 52.8L430.8 47.6L433.2 43.1L436 38.8L438.5 35.8L441.3 32.8L446.9 28.1L449.8 26.3L453 24.6L461.5 21.1L469.1 18.8L481.6 16.3L494.5 14.4L508.7 12.9" fill="none" stroke="#f2645c" stroke-width="2.6" stroke-opacity="0.105" stroke-linejoin="round" stroke-linecap="round" />
<path d="M387.6 172.6L402.2 192.8L403.4 193.9L404.2 194.1L405 193.3L405.4 192.4L406.6 187.2L408.2 176.3L413.1 132L415.1 116.6L417.1 104.3L419.5 92.2L421.1 85.6L423.5 77.3L426 69.9L428.8 62.3L431.2 56.6L433.6 51.8L436 47.6L438.9 43.5L441.3 40.7L444.1 37.8L449.8 33.2L455.8 29.8L463.9 26.4L471.5 24L482.8 21.7L495.4 19.8L508.7 18.3" fill="none" stroke="#f2645c" stroke-width="2.6" stroke-opacity="0.105" stroke-linejoin="round" stroke-linecap="round" />
<path d="M387.6 199.4L398.5 221.1L399.7 222.5L400.5 222.5L401.4 221.3L402.6 215.9L404.2 204.2L408.6 167L411.8 136L413.5 122.7L415.5 109L417.5 98L420.7 84.1L426 67.3L428.4 60.9L430.8 55.3L433.2 50.5L436 45.7L438.5 42.4L440.9 39.6L444.1 36.4L447.3 33.7L453 30.1L461.5 26.2L469.5 23.6L480.8 21.2L494.1 19.1L508.7 17.4" fill="none" stroke="#f2645c" stroke-width="2.6" stroke-opacity="0.105" stroke-linejoin="round" stroke-linecap="round" />
<path d="M387.6 175.5L403.4 194.6L404.6 195.7L405.4 195.9L406.2 195.5L406.6 194.8L407.4 192.4L408.2 188.4L409.8 177.3L411.8 160.2L414.7 133L416.7 117.4L418.3 107.1L421.1 92.7L422.7 86L425.2 77.6L427.6 70.1L430.4 62.4L432.8 56.7L435.2 51.7L437.7 47.5L440.5 43.4L442.9 40.5L445.7 37.6L451.4 33L457 29.7L465.1 26.2L472.8 23.9L483.2 21.6L495.4 19.7L508.7 18.1" fill="none" stroke="#f2645c" stroke-width="2.6" stroke-opacity="0.105" stroke-linejoin="round" stroke-linecap="round" />
<path d="M387.6 174.8L402.6 195.6L403.4 196.4L404.2 196.7L405 196.2L405.4 195.5L406.6 191.1L408.6 177.5L413.5 133.2L415.5 117.6L417.1 107.4L419.9 93L421.5 86.4L423.9 78.2L428.8 64.3L431.2 58.6L434 52.9L436.5 48.7L439.3 44.7L441.7 41.8L444.5 39L450.2 34.4L456.2 30.9L464.3 27.5L472 25.2L482.8 22.9L495.4 20.9L508.7 19.4" fill="none" stroke="#f2645c" stroke-width="2.6" stroke-opacity="0.105" stroke-linejoin="round" stroke-linecap="round" />
<path d="M387.6 171.1L401.8 192.1L402.6 192.9L403.4 193.3L404.2 192.9L404.6 192.3L405.8 187.8L407.4 177.3L409.4 160.5L412.2 133.4L414.3 117.8L416.3 105.3L419.1 91.4L420.7 85.2L423.5 75.8L428.4 62.6L430.8 57.2L433.2 52.5L435.6 48.5L438.5 44.6L443.7 39L446.5 36.6L449.8 34.3L456.2 30.8L463.9 27.6L471.1 25.5L483.2 23L495.4 21.2L508.7 19.7" fill="none" stroke="#f2645c" stroke-width="2.6" stroke-opacity="0.105" stroke-linejoin="round" stroke-linecap="round" />
<path d="M387.6 183.8L400.9 203.3L401.8 204L402.6 204.3L403.4 203.5L403.8 202.6L405 197.5L407 183.1L409.4 162.8L412.6 131.8L414.3 119.3L415.9 108.6L418.7 93.9L420.3 87L422.3 79.8L424.8 72L427.6 64.1L430 58.1L432.4 53L434.8 48.5L437.7 44.2L440.1 41.2L442.5 38.6L445.3 36L448.6 33.4L454.2 30L462.7 26.3L470.7 23.7L482 21.4L494.5 19.4L508.7 17.8" fill="none" stroke="#f2645c" stroke-width="2.6" stroke-opacity="0.105" stroke-linejoin="round" stroke-linecap="round" />
<path d="M387.6 168.6L401.8 187.7L402.6 188.4L403.4 188.7L404.2 188.1L404.6 187.4L405.8 182.7L407.4 172.1L411.8 131.5L413.9 116.3L415.9 104.1L418.7 90.5L423.1 75.2L428 62.1L430.4 56.8L432.8 52.2L435.2 48.2L438.1 44.4L443.3 38.9L449 34.5L455.4 30.9L463.5 27.6L470.7 25.5L482.8 23.1L494.9 21.2L508.7 19.7" fill="none" stroke="#f2645c" stroke-width="2.6" stroke-opacity="0.105" stroke-linejoin="round" stroke-linecap="round" />
<path d="M387.6 179.7L402.6 203.3L403.4 204.2L404.2 204.7L405 204.4L405.4 203.8L406.6 199.4L408.6 185.7L411 165.9L414.3 135.4L415.9 122.8L417.9 109.9L420.3 98L421.9 91.5L423.5 86.4L426 79.6L428.4 73.8L430.8 68.8L433.2 64.4L436 60L438.9 56.2L441.3 53.5L444.1 50.7L450.6 45.5L456.2 42.3L464.7 38.6L472.4 36.2L483.2 33.9L495.4 32L508.7 30.5" fill="none" stroke="#f2645c" stroke-width="2.6" stroke-opacity="0.105" stroke-linejoin="round" stroke-linecap="round" />
<path d="M387.6 188L402.2 217.4L403 218.5L403.8 219.1L404.6 218.5L405 217.6L406.2 212.1L407.8 200.4L411.8 166.9L416.3 126.4L418.3 112.5L420.7 99.7L423.5 88.3L426 80.8L428.8 73.3L431.2 67.8L433.6 63L436.5 58.2L439.3 54L441.7 51.1L444.5 48.2L447.7 45.3L451 42.7L456.2 39.5L464.7 35.8L472.8 33.2L482.8 31L495.4 28.9L508.7 27.3" fill="none" stroke="#f2645c" stroke-width="2.6" stroke-opacity="0.105" stroke-linejoin="round" stroke-linecap="round" />
<path d="M387.6 174L402.2 201.1L403 202.3L403.8 202.9L404.6 202.7L405 202L406.2 197.4L408.2 183.4L410.6 163.3L413.9 132.7L415.5 120.5L417.1 110.1L419.9 96.1L421.5 89.7L423.5 83.3L426 76.6L428.4 70.7L430.8 65.6L433.6 60.4L436 56.6L438.9 52.8L441.3 50.1L444.5 47L450.6 42.3L456.2 39.1L464.3 35.7L472 33.3L482.8 31L495.4 29.1L508.7 27.6" fill="none" stroke="#f2645c" stroke-width="2.6" stroke-opacity="0.105" stroke-linejoin="round" stroke-linecap="round" />
<path d="M387.6 162.8L403.4 185.2L404.6 186.5L405.4 186.9L406.2 186.4L406.6 185.7L407.8 181.4L409.4 171L413.5 134.3L415.9 116.3L417.9 104.8L420.3 93.7L421.9 88L424.3 80.8L426.8 74.5L429.2 69.1L431.6 64.4L434.4 59.6L437.3 55.6L440.1 52.2L445.7 46.8L451.4 42.7L457.8 39.3L465.5 36.3L472.4 34.3L484.1 31.9L495.8 30.1L508.7 28.6" fill="none" stroke="#f2645c" stroke-width="2.6" stroke-opacity="0.105" stroke-linejoin="round" stroke-linecap="round" />
<path d="M387.6 188L403 218.3L404.6 220.3L405.4 220.2L405.8 219.7L407 215.2L408.6 204.3L413.1 167.6L416.3 137.1L417.9 124.1L419.9 110.9L421.9 100.6L424.8 89.2L427.2 82L429.6 75.8L432 70.4L434.4 65.7L437.3 60.9L440.1 56.9L444.9 51.4L448.6 48.1L451.8 45.6L457 42.3L465.5 38.5L473.2 35.9L482.8 33.7L495.4 31.6L508.7 30" fill="none" stroke="#f2645c" stroke-width="2.6" stroke-opacity="0.105" stroke-linejoin="round" stroke-linecap="round" />
<path d="M387.6 184.2L403.4 202.8L404.6 203.7L405.4 203.9L406.2 203.2L406.6 202.4L407.4 199.7L408.2 195.4L409.8 184L412.2 164L415.5 133.5L417.1 121.2L418.7 110.8L421.5 96.7L423.1 90.3L424.8 85.1L427.2 78.3L429.6 72.3L432 67.2L434.4 62.7L436.9 58.7L439.7 54.8L442.1 51.9L444.9 49.1L451.4 43.8L456.6 40.7L465.1 37L472.8 34.5L482.8 32.3L495.4 30.2L508.7 28.7" fill="none" stroke="#f2645c" stroke-width="2.6" stroke-opacity="0.105" stroke-linejoin="round" stroke-linecap="round" />
<path d="M387.6 166.4L402.2 184.3L403.4 185.3L404.2 185.6L405 185.2L405.4 184.6L406.6 180.6L408.2 170.7L412.2 134.3L414.7 116.3L416.7 105L419.1 94L420.3 89.6L422.7 82.3L425.2 76.1L427.6 70.6L430 65.9L432.8 61.2L435.2 57.7L438.1 54.1L443.7 48.7L449.8 44.1L456.2 40.7L464.3 37.5L471.5 35.4L483.7 32.9L495.8 31.1L508.7 29.7" fill="none" stroke="#f2645c" stroke-width="2.6" stroke-opacity="0.105" stroke-linejoin="round" stroke-linecap="round" />
<path d="M387.6 167.9L401.4 200.8L403 203.7L403.8 204.3L404.2 204L405 202.2L405.4 200.5L406.6 193.2L409.8 167.4L413.9 130.2L415.9 115.9L417.9 104.9L420.3 94.3L423.1 85.4L427.2 75.6L431.6 67.3L434.4 62.9L437.3 59.2L440.1 56L442.9 53.3L446.9 50L450.6 47.4L453.8 45.5L458.2 43.4L467.5 39.9L477.2 37.5L492.1 34.9L508.7 33" fill="none" stroke="#f2645c" stroke-width="2.6" stroke-opacity="0.105" stroke-linejoin="round" stroke-linecap="round" />
<path d="M387.6 188.6L403 210.9L404.2 212.1L405 212.5L405.8 212L406.2 211.2L407 208.5L407.8 204.3L409.4 192.6L412.6 166.1L417.1 126.1L419.1 112.6L421.1 102.2L423.9 90.9L426 85L428.4 78.9L430.8 73.6L433.2 69.1L436 64.5L438.9 60.6L443.7 55.1L447.3 51.9L451 49L456.2 45.7L464.7 41.9L472.8 39.2L482.4 37.1L494.9 34.9L508.7 33.3" fill="none" stroke="#f2645c" stroke-width="2.6" stroke-opacity="0.105" stroke-linejoin="round" stroke-linecap="round" />
<path d="M387.6 189.4L403.4 216.9L404.6 218.5L405.4 219.1L406.2 218.8L406.6 218.1L407.8 213.5L409.4 202.5L413.5 169.3L418.3 125.7L420.3 112.2L422.3 101.8L425.2 90.4L427.6 83.3L430 77.2L432.4 71.9L434.8 67.3L437.7 62.7L440.5 58.8L445.3 53.3L452.2 47.6L457.4 44.3L465.9 40.4L473.6 37.9L482.8 35.8L495.4 33.6L508.7 31.9" fill="none" stroke="#f2645c" stroke-width="2.6" stroke-opacity="0.105" stroke-linejoin="round" stroke-linecap="round" />
<path d="M387.6 186.8L403 222.5L405.8 222.5L406.2 222L407.4 215.3L409 202.9L413.5 165.8L417.5 128.8L419.5 114.7L421.5 103.8L423.1 96.5L424.8 90.5L429.2 78.3L431.6 73L434 68.4L436.9 63.7L440.1 59.2L444.9 53.8L451.8 48L457 44.7L465.5 40.9L473.6 38.2L482.8 36.1L495.4 34L508.7 32.4" fill="none" stroke="#f2645c" stroke-width="2.6" stroke-opacity="0.105" stroke-linejoin="round" stroke-linecap="round" />
<path d="M387.6 182.5L403.4 203.9L404.6 205.1L405.4 205.5L406.2 205.2L406.6 204.6L407.4 202.3L408.2 198.3L409.8 187.2L412.6 164.1L415.9 133.7L417.5 121.6L419.1 111.4L421.5 99.5L424.3 89.2L428.8 77.9L431.2 72.9L433.6 68.6L436.5 64.3L439.3 60.5L441.7 57.7L444.5 55L451.4 49.4L456.6 46.3L465.1 42.5L472.8 40L482.8 37.8L495.4 35.7L508.7 34.1" fill="none" stroke="#f2645c" stroke-width="2.6" stroke-opacity="0.105" stroke-linejoin="round" stroke-linecap="round" />
<path d="M387.6 191.7L400.1 222.1L400.5 222.5L406.6 222.4L413.1 170.3L417.1 133.2L419.1 118.6L421.1 107.4L423.9 95.3L425.6 90.3L427.6 85.2L430 79.9L432.4 75.4L435.2 71L438.1 67.2L440.9 63.8L443.7 60.9L450.6 55.1L456.6 51.2L464.7 47.6L472.8 44.8L482 42.6L494.9 40.4L508.7 38.7" fill="none" stroke="#f2645c" stroke-width="2.6" stroke-opacity="0.105" stroke-linejoin="round" stroke-linecap="round" />
<path d="M387.6 164L407.8 199.6L409.8 202.3L410.6 202.4L411 202.1L412.2 198.8L413.9 189L416.7 166.5L420.3 132.9L421.9 121.2L423.5 111.4L426 100.1L428 92.8L431.6 83.6L435.6 75.9L440.9 68.3L446.5 62L454.2 55.7L457.8 53.3L461.1 51.5L469.9 47.6L478.8 44.9L492.9 42.1L508.7 39.9" fill="none" stroke="#f2645c" stroke-width="2.6" stroke-opacity="0.105" stroke-linejoin="round" stroke-linecap="round" />
<path d="M387.6 179.8L406.6 212.4L408.6 215L409.4 215.2L409.8 215L410.6 213.3L411 211.9L412.6 202.2L417.1 166.2L420.7 132.6L422.3 120.8L423.9 111L426.4 99.7L428.4 92.4L431.6 83.9L435.2 76.5L437.7 72.5L440.5 68.4L446.1 61.7L449.4 58.7L453.8 55.1L457.4 52.6L460.7 50.7L469.9 46.6L478.8 43.8L492.9 41L508.7 38.8" fill="none" stroke="#f2645c" stroke-width="2.6" stroke-opacity="0.105" stroke-linejoin="round" stroke-linecap="round" />
<path d="M387.6 163.3L404.6 202.6L406.2 205.6L407 206.4L407.4 206.3L408.2 204.9L408.6 203.5L410.2 193.9L413.5 168L417.1 134.5L420.3 112.5L422.7 101.1L424.8 93.8L428 85.6L432 77.9L434.4 74.2L437.7 70L440.9 66.3L443.7 63.5L447.7 60L451.8 57L455.4 54.6L459 52.8L467.9 49.1L476.4 46.6L491.7 43.6L508.7 41.4" fill="none" stroke="#f2645c" stroke-width="2.6" stroke-opacity="0.105" stroke-linejoin="round" stroke-linecap="round" />
<path d="M387.6 176.9L407.4 199.8L408.6 200.7L409.4 200.8L410.2 200.1L410.6 199.3L411.8 194.6L413.9 181.1L415.9 164.7L419.1 134.7L420.7 122.7L422.3 112.7L424.8 101.3L427.2 92.8L429.2 87.6L431.6 82.4L436 75L441.7 67.8L446.9 62.6L454.6 56.6L459.8 53.5L467.9 50L475.6 47.4L484.1 45.5L495.8 43.4L508.7 41.8" fill="none" stroke="#f2645c" stroke-width="2.6" stroke-opacity="0.105" stroke-linejoin="round" stroke-linecap="round" />
<path d="M387.6 186.4L403.4 213.9L404.6 215.6L405.4 216.2L406.2 216L406.6 215.4L407.8 211.2L409.4 200.5L413.5 167.5L417.9 127.6L419.9 114.2L421.9 103.9L424.8 92.9L428.8 82.6L431.2 77.7L433.6 73.6L439.3 65.7L444.5 60.2L451.8 54.3L457.4 50.8L465.5 47.2L473.6 44.6L482.8 42.5L495.4 40.3L508.7 38.7" fill="none" stroke="#f2645c" stroke-width="2.6" stroke-opacity="0.105" stroke-linejoin="round" stroke-linecap="round" />
<path d="M387.6 198.6L401.8 222.4L409.8 222.5L410.2 222.3L416.7 170.7L420.7 134L422.3 122.3L423.9 112.8L426.4 101.9L428.8 94.1L430.8 89.5L432.8 85.6L434.8 82.4L437.3 79.1L443.7 72.1L450.2 66.5L457.8 61.1L465.1 57.5L473.2 54.3L480.8 52.2L494.1 49.7L508.7 47.6" fill="none" stroke="#f2645c" stroke-width="2.6" stroke-opacity="0.105" stroke-linejoin="round" stroke-linecap="round" />
<path d="M387.6 163.7L406.2 208.5L408.2 212.3L409 212.8L409.4 212.5L410.2 210.6L410.6 208.9L412.2 198.5L416.3 165.8L419.5 136L422.3 116.6L424.8 105.1L426.8 97.8L428.8 92.7L431.6 87.4L434 83.8L436.5 80.9L444.1 73.3L453 66.5L456.6 64.1L460.3 62.1L469.5 58.2L478 55.6L492.5 52.7L508.7 50.4" fill="none" stroke="#f2645c" stroke-width="2.6" stroke-opacity="0.105" stroke-linejoin="round" stroke-linecap="round" />
<path d="M387.6 167.2L409.4 198.8L411.4 201.1L412.2 201.3L412.6 201.1L413.5 199.7L414.3 196.8L415.9 186.8L418.7 164.3L421.9 134.5L423.5 122.7L425.2 113.1L427.6 102L429.6 95.1L432.4 88.4L435.2 83.3L437.7 79.7L440.1 76.7L446.9 69.5L450.2 66.7L455.4 62.7L459 60.3L462.3 58.5L471.5 54.5L480 51.8L493.7 49L508.7 46.9" fill="none" stroke="#f2645c" stroke-width="2.6" stroke-opacity="0.105" stroke-linejoin="round" stroke-linecap="round" />
<path d="M387.6 174L410.2 200.7L411.4 201.9L412.2 202.3L413.1 202.1L413.5 201.7L414.3 199.9L415.1 196.6L416.7 186.3L419.1 167.1L422.7 133.9L424.3 122.2L426 112.6L428 103.3L430 96L432.8 89L436 83L438.5 79.4L440.9 76.4L447.7 69.1L451.4 66L456.2 62.3L459.8 59.9L463.1 58.2L472 54.3L480.4 51.6L493.7 48.9L508.7 46.7" fill="none" stroke="#f2645c" stroke-width="2.6" stroke-opacity="0.105" stroke-linejoin="round" stroke-linecap="round" />
<path d="M387.6 190L409 218L410.2 219.3L411 219.8L411.8 219.7L412.2 219.3L413.1 217.5L413.9 214.1L415.5 203.6L419.9 167.6L423.5 134.4L426 117.7L428 107.5L430.4 98.2L432.4 92.8L435.2 87.2L437.7 83.4L440.1 80.4L447.3 72.9L451 69.8L456.2 65.8L459.8 63.4L463.5 61.3L472.8 57.3L481.2 54.6L494.1 51.9L508.7 49.7" fill="none" stroke="#f2645c" stroke-width="2.6" stroke-opacity="0.105" stroke-linejoin="round" stroke-linecap="round" />
<path d="M387.6 189.4L408.2 222.1L408.6 222.5L415.1 222.5L415.5 221.6L415.9 219.1L417.5 207.2L422.3 167.1L426 133.6L428.4 116.6L430.4 106.1L432.8 96.2L435.2 89.3L438.5 82.3L440.9 78.1L443.3 74.5L446.5 70.3L449.8 66.6L453 63.5L457 60.1L461.1 57.1L464.7 54.9L473.6 50.8L482.4 47.8L494.5 45.1L508.7 42.9" fill="none" stroke="#f2645c" stroke-width="2.6" stroke-opacity="0.105" stroke-linejoin="round" stroke-linecap="round" />
<path d="M387.6 172.9L411.8 213.4L413.9 216L414.7 216.4L415.1 216.2L415.9 214.7L416.3 213.4L417.9 204.2L422.3 168.6L426 135.2L428.8 115.6L431.2 103.9L433.2 96.3L435.6 90L438.5 84.3L440.9 80.3L443.3 77L446.5 73.2L450.2 69.4L453.4 66.4L457.8 62.9L461.5 60.3L465.1 58.1L474 54.1L482.8 51.1L494.9 48.5L508.7 46.4" fill="none" stroke="#f2645c" stroke-width="2.6" stroke-opacity="0.105" stroke-linejoin="round" stroke-linecap="round" />
<path d="M387.6 195.5L400.1 222.5L416.3 222.5L416.7 221.8L422.7 171.4L426.8 134.5L429.2 117.5L431.2 107.1L433.6 97.4L435.6 91.7L438.5 85.6L440.9 81.4L443.3 77.9L446.5 74L450.2 70.1L453.4 67L457.8 63.4L461.9 60.5L465.5 58.2L474.4 54.1L483.2 51.1L495.4 48.5L508.7 46.4" fill="none" stroke="#f2645c" stroke-width="2.6" stroke-opacity="0.105" stroke-linejoin="round" stroke-linecap="round" />
<path d="M387.6 168.6L413.5 205.5L415.9 208.2L416.7 208.4L417.1 208.2L417.9 206.9L418.7 204L420.3 194L423.5 168.3L427.2 134.9L428.8 123L430.4 113.1L432.4 103.5L434.4 95.9L436.9 89.5L440.1 83L442.5 79L444.9 75.7L451.4 68.4L454.6 65.4L459 61.8L462.7 59.2L466.3 57L475.2 53L483.7 50.1L495.4 47.6L508.7 45.4" fill="none" stroke="#f2645c" stroke-width="2.6" stroke-opacity="0.105" stroke-linejoin="round" stroke-linecap="round" />
<path d="M387.6 202.8L391.1 202.1L392.9 200.6L396.4 199.6L398.2 199.9L401.7 201.3L405.2 199.4L406.9 200L408.7 201.4L410.4 201.5L412.2 199.8L413.9 199.3L415.7 200.4L419.2 201.3L421 200.6L422.7 200.4L424.5 199.9L428 200.9L429.7 201.8L431.5 201.9L433.2 202.6L435 202.2L436.7 202.2L438.5 201.8L440.3 201.7L445.5 200.1L447.3 199L449 199.9L450.8 199.1L452.5 200.1L454.3 199.8L456 200.8L457.8 200.6L459.6 199.1L461.3 199.8L463.1 199.8L466.6 201.2L468.3 202.4L470.1 202.3L473.6 199.6L477.1 200.2L478.8 201L480.6 200.7L482.4 201.5L484.1 201.7L487.6 202.7L489.4 201.6L491.1 202.3L492.9 201.1L494.6 200.4L496.4 200.2L501.6 200.4L503.4 200.2L505.2 200.7L506.9 199.5L508.7 198.7" fill="none" stroke="#838383" stroke-width="1.9" stroke-linejoin="round" stroke-linecap="round" />
<path d="M387.6 199.4L389.4 198.4L391.1 199.6L392.9 198.4L394.7 199.1L396.4 198.7L398.2 197L399.9 197.4L401.7 196.8L403.4 198.2L405.2 198.8L406.9 198.4L408.7 199.5L410.4 198.2L412.2 199.8L413.9 200.6L415.7 200.5L419.2 198.9L421 199.2L422.7 199.2L424.5 199.9L426.2 201.7L428 203L429.7 203.2L431.5 203L435 201L436.7 199.4L438.5 198.6L440.3 198.3L443.8 198.4L447.3 199L452.5 198.9L454.3 199.1L456 198L457.8 197.6L459.6 197.9L461.3 199.4L463.1 199.9L464.8 198.4L466.6 200.3L468.3 200L470.1 201.5L471.8 198.9L473.6 200.1L475.3 198.9L477.1 198.8L478.8 198L482.4 200.2L485.9 200L487.6 198.7L496.4 197.3L498.1 198.6L499.9 198.2L501.6 199L503.4 198.7L505.2 199.4L506.9 198.4L508.7 196.9" fill="none" stroke="#838383" stroke-width="1.9" stroke-linejoin="round" stroke-linecap="round" />
<path d="M387.6 178.1L403 203.2L404.2 204.7L405 205.2L405.8 204.8L406.2 204L407.4 199.3L409.4 185.3L411.8 165.4L415.1 135L416.7 122.6L418.3 112.2L420.7 100.1L423.5 89.5L426 82.8L428.4 77L430.8 72L433.2 67.7L436 63.4L439.3 59.2L444.5 53.7L448.1 50.7L451.4 48.3L457 45.1L465.1 41.6L472.8 39.2L483.2 36.9L495.4 35L508.7 33.4" fill="none" stroke="#f0545a" stroke-width="1.6" stroke-linejoin="round" stroke-linecap="round" />
<path d="M540.9 8.5L559.8 11.2L569.1 12.8L577.1 14.7L585.6 17.5L594.4 21.1L601.7 25.1L606.9 29L609.3 31.5L611.7 34.4L615.3 39.4L619.4 45.9L622.6 51.9L625.8 58.9L628.6 66L631 72.9L636.7 92.5L639.1 105L641.9 134L645.1 163.9L646.7 176.3L647.9 182.1L648.3 183L649.1 183.7L649.9 183.3L650.7 182.3L661.6 163.4" fill="none" stroke="#6a6cf0" stroke-width="2.6" stroke-opacity="0.1" stroke-linejoin="round" stroke-linecap="round" />
<path d="M540.9 9.4L558.6 11.9L568.3 13.7L576.7 15.9L585.6 19L593.6 22.5L600.4 26.6L605.3 30.5L610.1 36.1L614.1 42L617.7 48L621 54.3L623.8 60.6L626.6 67.8L629 75L632.6 87.2L634.2 93.4L635.5 99.2L636.7 106.6L639.1 132.1L642.7 165.7L644.3 178.4L645.1 183L645.9 186L646.3 186.8L647.1 187.5L647.9 187.4L648.7 186.8L661.6 171.2" fill="none" stroke="#6a6cf0" stroke-width="2.6" stroke-opacity="0.1" stroke-linejoin="round" stroke-linecap="round" />
<path d="M540.9 9.5L557.8 11.9L567.5 13.6L575.5 15.6L583.9 18.5L592.4 22.1L599.2 26L604.5 30L608.9 35L612.5 40.1L616.5 46.5L619.8 52.5L622.6 58.6L625.4 65.5L627.8 72.3L633.4 91.5L635 98.8L636.3 106.1L638.7 131.5L642.7 168.7L644.3 180.5L645.5 185.6L645.9 186.3L646.7 186.9L647.5 186.5L648.3 185.6L661.6 165.4" fill="none" stroke="#6a6cf0" stroke-width="2.6" stroke-opacity="0.1" stroke-linejoin="round" stroke-linecap="round" />
<path d="M540.9 11L558.6 13.5L568.7 15.4L577.1 17.6L586.4 20.9L594.8 24.7L601.7 29L606.1 32.8L610.9 38.7L614.9 44.6L618.1 49.9L621.4 56.2L624.2 62.5L629 75.7L632.6 87.7L634.2 93.9L635.5 99.6L636.7 107.2L639.1 132.6L643.1 169.9L644.7 182.7L645.5 187.6L646.3 190.8L646.7 191.8L647.5 192.7L648.3 192.7L649.1 192.1L661.6 177" fill="none" stroke="#6a6cf0" stroke-width="2.6" stroke-opacity="0.1" stroke-linejoin="round" stroke-linecap="round" />
<path d="M540.9 10.2L560.2 13L569.9 14.7L577.9 16.7L586.8 19.6L595.6 23.3L602.5 27.3L607.7 31.4L612.5 36.9L616.5 42.6L620.2 48.4L623.4 54.5L626.2 60.7L629 67.7L631.4 74.7L636.7 92.6L639.1 105L641.9 133.8L645.5 167L647.1 178.7L648.3 183.6L648.7 184.3L649.5 184.8L650.3 184.5L651.1 183.7L661.6 169.1" fill="none" stroke="#6a6cf0" stroke-width="2.6" stroke-opacity="0.1" stroke-linejoin="round" stroke-linecap="round" />
<path d="M540.9 9.3L560.2 12L569.1 13.5L577.1 15.4L585.2 17.9L594 21.4L601.2 25.3L607.3 29.6L611.7 34.3L615.7 39.7L619.8 46L623 51.9L625.8 57.9L628.6 64.6L631.4 72.5L637.1 91.6L638.7 98.9L639.9 106.2L642.3 131.6L645.9 165.3L647.5 177.6L648.7 182.7L649.1 183.4L649.5 183.6L649.9 183.5L651.1 181.7L661.6 156.8" fill="none" stroke="#6a6cf0" stroke-width="2.6" stroke-opacity="0.1" stroke-linejoin="round" stroke-linecap="round" />
<path d="M540.9 12.9L559.4 15.5L569.9 17.5L579.1 20L589.2 23.8L597.2 27.7L600.8 30L604.1 32.3L608.5 36.8L613.7 43.7L616.9 48.6L619.8 53.4L622.6 59L625.4 65.3L627.8 71.6L630.2 78.7L633.4 89.5L635 95.9L637.1 107.3L639.9 136.5L644.7 180.6L646.3 192.6L647.5 198.2L647.9 199.3L648.7 200.3L649.5 200.3L650.3 199.8L652.8 197.3L661.6 186.9" fill="none" stroke="#6a6cf0" stroke-width="2.6" stroke-opacity="0.1" stroke-linejoin="round" stroke-linecap="round" />
<path d="M540.9 15L559 17.6L569.1 19.4L577.9 21.7L587.2 25L595.6 28.8L602.5 33L606.9 36.8L612.1 42.9L616.1 48.6L619 53.1L622.2 59L625 64.9L627.8 71.9L630.2 78.8L633.4 89.3L635 95.5L636.7 103.6L637.5 109.4L640.3 138.6L644.7 178.2L645.9 186.2L647.1 190.8L647.5 191.5L648.3 192L649.1 191.6L649.9 190.9L661.6 175.7" fill="none" stroke="#6a6cf0" stroke-width="2.6" stroke-opacity="0.1" stroke-linejoin="round" stroke-linecap="round" />
<path d="M540.9 14L559.8 16.7L569.9 18.5L578.3 20.7L587.2 23.8L595.6 27.4L602.9 31.7L605.3 33.5L607.7 35.7L612.5 41.3L616.5 46.9L619.8 52L623 57.8L625.8 63.8L628.2 69.6L630.6 76.3L634.2 88L635.9 93.9L638.3 106.4L641.1 135.4L644.7 168.4L646.3 180L647.5 185L647.9 185.8L648.7 186.5L649.5 186.4L650.3 185.8L661.6 172.5" fill="none" stroke="#6a6cf0" stroke-width="2.6" stroke-opacity="0.1" stroke-linejoin="round" stroke-linecap="round" />
<path d="M540.9 16.1L557.4 18.5L566.6 20.1L574.3 22L582.7 24.8L591.6 28.4L598.4 32.1L603.7 35.8L608.5 40.8L612.5 46L616.5 51.9L619.8 57.4L622.6 62.9L625.4 69.3L627.8 75.8L633 92.7L634.6 99.7L635.9 106.7L638.7 135.5L642.3 168.6L643.9 180.3L645.1 185L645.5 185.7L646.3 186.1L647.1 185.5L647.9 184.4L661.6 161.2" fill="none" stroke="#6a6cf0" stroke-width="2.6" stroke-opacity="0.1" stroke-linejoin="round" stroke-linecap="round" />
<path d="M540.9 16.4L557 18.7L567 20.6L575.9 23L585.6 26.6L593.6 30.4L600.4 34.8L604.5 38.5L609.3 44.3L613.3 50L616.1 54.5L619.4 60.4L622.2 66.4L624.6 72.3L627 79.2L630.2 89.6L631.8 95.8L633.4 103.9L634.2 109.8L637.1 139.1L641.5 179L643.1 190L644.3 194.6L644.7 195.3L645.5 195.8L646.3 195.5L647.1 194.8L661.6 177.6" fill="none" stroke="#6a6cf0" stroke-width="2.6" stroke-opacity="0.1" stroke-linejoin="round" stroke-linecap="round" />
<path d="M540.9 14.8L556.6 17.1L566.2 18.8L574.3 20.9L583.1 24L591.2 27.4L598 31.3L602.9 35L607.7 40.3L611.7 45.7L615.3 51.2L618.6 56.9L621.8 63.5L624.6 70.3L627 77L630.6 88.8L632.2 94.9L633.8 102.8L634.6 108.2L636.7 129.7L641.1 170.8L643.1 186.4L644.3 191.9L644.7 192.7L645.5 193.3L646.3 192.7L647.1 191.6L661.6 164.2" fill="none" stroke="#6a6cf0" stroke-width="2.6" stroke-opacity="0.1" stroke-linejoin="round" stroke-linecap="round" />
<path d="M540.9 14.8L558.6 17.3L568.7 19.2L577.1 21.4L586.4 24.6L594.8 28.4L601.7 32.6L604.1 34.4L606.5 36.7L611.3 42.4L615.3 48.1L618.1 52.5L621.4 58.4L624.2 64.3L626.6 70.1L629 76.8L632.6 88.5L634.2 94.5L635.5 100.1L636.7 107.4L639.1 132.7L643.1 169.8L644.7 182.2L645.5 186.8L646.3 189.6L646.7 190.4L647.5 191L648.3 190.8L649.1 190.1L661.6 173.9" fill="none" stroke="#6a6cf0" stroke-width="2.6" stroke-opacity="0.1" stroke-linejoin="round" stroke-linecap="round" />
<path d="M540.9 18.6L557 20.9L567 22.8L576.3 25.5L586.4 29.2L594 33L600.4 37.3L604.9 41.5L610.1 48L613.7 53.1L616.5 57.6L619.4 62.8L622.2 68.8L624.6 74.8L627 81.7L629.8 90.8L631.4 97.1L633.4 108.4L636.7 141.3L641.5 184.7L643.1 195.9L644.3 200.6L644.7 201.3L645.5 201.7L646.3 201.3L647.1 200.5L661.6 180.3" fill="none" stroke="#6a6cf0" stroke-width="2.6" stroke-opacity="0.1" stroke-linejoin="round" stroke-linecap="round" />
<path d="M540.9 19.9L557 22.2L567.5 24.2L577.9 27.3L588.4 31.5L595.2 35L601.2 39.3L606.5 44.7L612.5 52.5L615.7 57.4L618.6 62.3L621 67.1L623.4 72.6L626.2 80.2L629 89L631.8 100L633.4 110L636.3 139.1L641.5 186.3L643.1 197.9L644.3 203.3L644.7 204.3L645.5 205.2L646.3 205.2L647.1 204.6L649.9 201.7L661.6 188.4" fill="none" stroke="#6a6cf0" stroke-width="2.6" stroke-opacity="0.1" stroke-linejoin="round" stroke-linecap="round" />
<path d="M540.9 21L558.6 23.5L569.5 25.7L575.1 27.3L581.1 29.4L587.2 31.7L592 33.9L599.2 38.2L602.1 40.2L604.5 42.4L607.7 46L610.9 49.9L614.5 54.8L617.3 59.1L622.2 68L625.8 76.6L630.6 91.1L633 101L634.6 111.6L637.1 136.8L641.5 176.7L643.1 187L643.5 188.6L644.3 190.1L644.7 190.3L645.5 189.7L647.1 186.8L661.6 155.1" fill="none" stroke="#6a6cf0" stroke-width="2.6" stroke-opacity="0.1" stroke-linejoin="round" stroke-linecap="round" />
<path d="M540.9 18.8L557.8 21.2L567.9 23.1L577.5 25.8L587.6 29.5L595.2 33.3L601.7 37.5L606.5 42L611.7 48.5L615.3 53.6L618.1 58.1L621 63.3L623.8 69.3L626.2 75.3L628.6 82.3L631.4 91.5L633 97.9L634.2 104.1L635 109.8L637.5 135.1L642.3 178.9L643.9 190.4L645.1 195.6L645.5 196.5L646.3 197.3L647.1 197.2L647.9 196.7L661.6 181" fill="none" stroke="#6a6cf0" stroke-width="2.6" stroke-opacity="0.1" stroke-linejoin="round" stroke-linecap="round" />
<path d="M540.9 20.1L557 22.5L567 24.4L576.3 26.9L586 30.4L594 34.2L600.8 38.6L605.3 42.6L610.1 48.3L614.1 53.8L616.9 58.1L619.8 63L622.6 68.7L627 79.9L630.2 89.9L631.8 95.8L633.4 103.5L634.2 108.8L637.5 141.6L641.9 180.8L643.1 188.7L644.3 193.2L644.7 193.9L645.5 194.4L646.3 194.1L647.1 193.3L661.6 174.9" fill="none" stroke="#6a6cf0" stroke-width="2.6" stroke-opacity="0.1" stroke-linejoin="round" stroke-linecap="round" />
<path d="M540.9 18.5L556.2 20.7L566.2 22.6L575.1 25.1L584.4 28.4L592.4 32.2L599.2 36.5L603.3 40L608.1 45.6L612.1 51L615.3 55.9L618.6 61.6L621.4 67.4L623.8 73.2L626.2 80L629.4 90.2L631 96.4L632.6 104.5L633.4 110.5L636.3 139.6L641.1 183.2L642.7 194.3L643.9 198.7L644.3 199.3L645.1 199.5L646.7 197.8L661.6 173.2" fill="none" stroke="#6a6cf0" stroke-width="2.6" stroke-opacity="0.1" stroke-linejoin="round" stroke-linecap="round" />
<path d="M540.9 20.2L558.6 22.7L568.3 24.5L576.3 26.6L585.2 29.6L593.6 33.2L600.8 37.3L605.7 41L610.9 46.7L615.3 52.4L618.6 57.1L621.8 62.5L624.6 68L627 73.6L629.4 80.1L632.6 90.1L634.2 95.9L635.9 103.7L636.7 109L639.5 138L644.3 181.3L645.5 189.4L646.7 193.8L647.1 194.3L647.5 194.5L647.9 194.3L649.5 192L661.6 167.2" fill="none" stroke="#6a6cf0" stroke-width="2.6" stroke-opacity="0.1" stroke-linejoin="round" stroke-linecap="round" />
<path d="M540.9 22.2L557.4 24.6L567.5 26.5L576.7 29.1L586.8 32.9L594.4 36.6L601.2 41L605.7 45.1L611.3 51.8L614.9 56.7L617.7 61L621 66.8L623.4 71.8L627.8 83.5L630.6 92.4L632.2 98.8L633.4 104.9L634.2 110.8L636.7 136L641.9 183.3L643.5 195.1L644.7 200.3L645.1 201.2L645.9 201.7L646.7 201.2L647.5 200.3L661.6 176.9" fill="none" stroke="#6a6cf0" stroke-width="2.6" stroke-opacity="0.1" stroke-linejoin="round" stroke-linecap="round" />
<path d="M540.9 24.1L555.4 26.2L565.4 28.2L574.7 30.8L584.8 34.6L592 38.1L598.4 42.3L602.9 46.3L608.5 52.9L612.1 57.6L614.9 61.8L618.1 67.4L620.6 72.3L625 83.6L627.8 92.4L629.4 98.6L630.6 104.6L631.4 110.1L634.2 139L638.7 178.7L640.3 189.9L641.5 194.7L641.9 195.5L642.7 196.1L643.5 195.9L644.7 194.9L661.6 175" fill="none" stroke="#6a6cf0" stroke-width="2.6" stroke-opacity="0.1" stroke-linejoin="round" stroke-linecap="round" />
<path d="M540.9 20.9L557.8 23.4L568.7 25.7L574.3 27.3L580.3 29.4L586 31.6L590.8 33.8L598 38.1L600.4 40L602.9 42.2L606.1 45.7L609.3 49.7L612.9 54.6L615.7 58.9L620.2 67L623.8 75.4L628.6 89.7L631 99L632.6 108L635.9 140.6L639.9 176.4L641.5 186.3L641.9 187.8L642.7 189.3L643.1 189.5L643.9 189.1L645.5 186.9L661.6 158.6" fill="none" stroke="#6a6cf0" stroke-width="2.6" stroke-opacity="0.1" stroke-linejoin="round" stroke-linecap="round" />
<path d="M540.9 22L559 24.6L569.9 26.8L575.5 28.4L581.5 30.4L587.6 32.8L592.4 35L599.6 39.2L602.5 41.2L604.9 43.4L608.1 46.8L611.7 51.2L615.3 56L618.1 60.3L622.6 68.3L626.6 77.7L631 91L633.4 100.6L635 110.7L637.5 135.9L641.9 176L643.5 187.4L644.7 191.7L645.1 192.1L645.9 191.9L647.5 189.2L661.6 157.2" fill="none" stroke="#6a6cf0" stroke-width="2.6" stroke-opacity="0.1" stroke-linejoin="round" stroke-linecap="round" />
<path d="M540.9 21.6L557.8 24.1L568.7 26.4L574.7 28.2L581.1 30.5L586.8 32.8L591.6 35.2L598.8 39.7L603.7 44.2L607.3 48.4L611.3 53.6L614.1 57.7L616.9 62.4L621 70.3L624.6 79.4L628.6 91.8L631 102L632.2 109.7L635.5 142.5L640.7 189.2L642.3 199.7L642.7 201.3L643.5 203L643.9 203.1L644.7 202.4L646.3 199.4L661.6 164.4" fill="none" stroke="#6a6cf0" stroke-width="2.6" stroke-opacity="0.1" stroke-linejoin="round" stroke-linecap="round" />
<path d="M540.9 30.4L557 32.7L567.9 35.1L573.9 36.9L580.3 39.1L586 41.4L590.8 43.7L598 47.9L602.9 52L612.1 62.1L614.9 65.8L617.7 70L621.4 76.7L624.6 84.4L628.2 95.1L630.2 103.4L631.4 110.8L634.2 139.5L639.1 182.2L640.7 192.4L641.1 194L641.9 195.7L642.3 196L643.1 195.8L644.7 193.8L661.6 164.5" fill="none" stroke="#6a6cf0" stroke-width="2.6" stroke-opacity="0.1" stroke-linejoin="round" stroke-linecap="round" />
<path d="M540.9 31.6L557.4 34.1L568.3 36.4L574.3 38.1L581.1 40.5L586.8 42.8L591.6 45.1L598.8 49.4L604.1 53.9L612.9 63.4L616.1 67.6L619 71.9L622.6 78.7L625.8 86.7L629 96.4L631 105.2L631.8 110.2L634.6 138.7L639.5 181.8L641.1 192.8L642.3 196.7L642.7 197.1L643.5 196.7L645.1 193.9L661.6 156" fill="none" stroke="#6a6cf0" stroke-width="2.6" stroke-opacity="0.1" stroke-linejoin="round" stroke-linecap="round" />
<path d="M540.9 31.1L557.8 33.6L568.7 35.9L574.7 37.6L581.1 39.9L586.8 42.1L592 44.5L599.2 48.8L604.5 53.2L613.7 63.2L616.5 66.9L619.4 71.1L623 77.9L626.2 85.7L629.8 96.7L631.8 105.6L632.6 110.9L635 135.7L640.3 182.7L641.9 194.2L642.7 197.7L643.5 199.2L643.9 199.3L644.7 198.6L646.3 195.5L661.6 159.7" fill="none" stroke="#6a6cf0" stroke-width="2.6" stroke-opacity="0.1" stroke-linejoin="round" stroke-linecap="round" />
<path d="M540.9 32.1L556.6 34.5L567 36.8L573.1 38.7L579.9 41.1L585.2 43.3L590 45.6L596.8 49.7L602.1 54.1L610.9 63.7L614.1 67.8L616.9 72.1L620.6 79L623.8 87L627 96.8L629 105.7L629.8 111L632.6 139.5L637.5 182.4L639.1 193.1L639.9 196.2L640.7 197.6L641.1 197.8L641.9 197.4L643.5 195.2L661.6 165" fill="none" stroke="#6a6cf0" stroke-width="2.6" stroke-opacity="0.1" stroke-linejoin="round" stroke-linecap="round" />
<path d="M540.9 30.2L557.4 32.6L568.3 35L574.3 36.8L580.7 39L586.4 41.3L591.2 43.6L598.4 47.9L603.3 52L612.1 61.7L615.3 65.8L618.1 70.1L621.8 76.9L625 84.7L628.6 95.5L630.6 104L631.8 111.9L634.6 140.5L639.5 183.3L641.1 193.9L642.3 197.7L642.7 198.2L643.5 198.1L645.1 196.3L661.6 168.8" fill="none" stroke="#6a6cf0" stroke-width="2.6" stroke-opacity="0.1" stroke-linejoin="round" stroke-linecap="round" />
<path d="M540.9 28.8L556.6 31.2L567 33.5L573.5 35.5L579.9 37.9L585.2 40L590 42.4L596.8 46.7L602.1 51.4L610.5 61.1L613.3 65L616.1 69.4L619.8 76.5L623 84.5L626.6 95.6L628.6 104.4L629.8 112.9L632.2 137.8L637.5 184.6L639.1 195.2L639.5 196.9L640.3 198.8L640.7 199.1L641.5 198.6L643.1 195.9L661.6 155.5" fill="none" stroke="#6a6cf0" stroke-width="2.6" stroke-opacity="0.1" stroke-linejoin="round" stroke-linecap="round" />
<path d="M540.9 31L557.4 33.4L568.3 35.7L574.3 37.4L580.3 39.5L586.4 41.9L591.2 44.1L598.8 48.5L603.7 52.4L612.9 62.4L615.7 65.9L618.6 70L622.2 76.5L625.8 85L629.4 95.8L631.4 104.3L632.6 112.3L635 137.1L639.5 176.6L641.1 187L641.5 188.5L642.3 190.1L642.7 190.2L643.5 189.6L645.1 186.7L661.6 149" fill="none" stroke="#6a6cf0" stroke-width="2.6" stroke-opacity="0.1" stroke-linejoin="round" stroke-linecap="round" />
<path d="M540.9 37.5L555.4 39.8L565.8 42.2L571.9 44.1L578.7 46.6L584.4 49L589.2 51.4L594 54.2L596.8 56.3L606.1 64.9L609.3 68.2L612.1 71.5L614.5 74.8L616.5 78L619.8 84.6L623.4 94.1L625.4 101L627 109L630.6 144L636.3 193.8L637.9 205.4L638.7 209L639.5 210.7L639.9 210.8L640.7 210.3L642.3 207.5L661.6 166" fill="none" stroke="#6a6cf0" stroke-width="2.6" stroke-opacity="0.1" stroke-linejoin="round" stroke-linecap="round" />
<path d="M540.9 37.9L555 40.2L565 42.6L571.5 44.7L577.9 47.1L583.1 49.3L588 51.7L592.4 54.3L595.2 56.4L604.9 65.4L610.5 71.6L612.9 74.8L614.9 78.1L618.1 84.6L621.8 94.1L623.8 101L625.4 109L629 144L634.2 190.3L636.3 204.8L637.1 208.5L637.9 210.5L638.3 211L639.1 211.1L639.9 210.7L641.1 209.5L661.6 185" fill="none" stroke="#6a6cf0" stroke-width="2.6" stroke-opacity="0.1" stroke-linejoin="round" stroke-linecap="round" />
<path d="M540.9 37.8L555.4 40L565.8 42.4L571.9 44.3L578.7 46.7L583.9 48.9L588.8 51.2L595.6 55.2L601.2 60L607.7 66.2L610.9 69.6L614.1 73.6L616.5 77.3L620.2 84.5L623.8 93.9L625.8 100.7L627.4 108.5L631.4 146.9L635.9 185.9L637.5 197.1L638.3 200.5L639.1 201.9L639.5 202L640.3 201.3L641.9 198.4L661.6 155.3" fill="none" stroke="#6a6cf0" stroke-width="2.6" stroke-opacity="0.1" stroke-linejoin="round" stroke-linecap="round" />
<path d="M540.9 39.1L556.2 41.5L566.6 43.8L572.7 45.6L579.1 47.8L584.8 50.1L589.6 52.3L596.8 56.4L602.1 60.5L612.1 70L615.3 73.8L618.1 77.7L621.8 84.6L625.4 93.7L627.4 100.2L629 107.6L629.8 113.3L632.2 137.8L637.5 184.1L639.1 194.8L639.9 198L640.7 199.2L641.1 199.3L641.9 198.8L643.5 196.3L661.6 162" fill="none" stroke="#6a6cf0" stroke-width="2.6" stroke-opacity="0.1" stroke-linejoin="round" stroke-linecap="round" />
<path d="M540.9 37.5L555.4 39.8L565.8 42.1L571.9 44L578.7 46.4L583.9 48.6L588.8 50.9L595.6 54.9L601.2 59.6L610.9 69.3L614.1 73.3L616.5 76.9L620.2 83.9L623.8 93.3L625.8 99.9L627.4 107.3L628.2 112.9L631 141.3L636.3 187.6L637.9 198.8L638.7 202.1L639.5 203.4L639.9 203.4L640.7 202.6L642.3 199.6L661.6 155.2" fill="none" stroke="#6a6cf0" stroke-width="2.6" stroke-opacity="0.1" stroke-linejoin="round" stroke-linecap="round" />
<path d="M540.9 33.9L554.6 36.2L564.6 38.8L577.1 43.3L581.9 45.5L586.8 48L590.4 50.2L592.8 52L596 54.9L600 59L604.1 63.3L607.3 67.2L610.1 71.2L612.5 75.2L616.1 82.8L619.8 92.7L621.8 99.6L623.4 107.5L627.4 146L631.8 185.2L633.8 199.1L634.6 202.4L635.5 204L635.9 204.4L636.7 204.3L638.7 202.5L661.6 174.5" fill="none" stroke="#6a6cf0" stroke-width="2.6" stroke-opacity="0.1" stroke-linejoin="round" stroke-linecap="round" />
<path d="M540.9 35.7L554.6 38L564.6 40.6L571.1 42.7L577.5 45.2L582.3 47.4L587.2 50L590.8 52.2L593.6 54.4L602.9 63.4L608.5 70L612.9 76.9L616.1 83.7L619.8 93.4L621.8 100.4L623.4 108.3L627.4 147.1L632.6 193.2L634.6 207.2L635.5 210.5L636.3 212.2L636.7 212.6L637.5 212.6L639.5 211.1L661.6 186.7" fill="none" stroke="#6a6cf0" stroke-width="2.6" stroke-opacity="0.1" stroke-linejoin="round" stroke-linecap="round" />
<path d="M540.9 35.4L554.6 37.8L564.6 40.5L577.1 45.1L581.9 47.3L586.8 49.9L590 52L593.2 54.5L602.5 63.8L607.7 70.1L610.1 73.7L612.1 77.2L615.3 84.2L619 94.1L620.6 99.7L622.2 107.5L623 113.6L626.6 149.5L631.8 195.5L633.4 206.8L634.2 210.2L635 211.7L635.5 211.8L636.3 211.3L638.3 208.3L661.6 164.2" fill="none" stroke="#6a6cf0" stroke-width="2.6" stroke-opacity="0.1" stroke-linejoin="round" stroke-linecap="round" />
<path d="M540.9 199.2L542.6 198.6L544.4 200L546.1 199.2L547.9 199.6L549.6 197.8L554.9 197.4L556.6 196.3L558.4 196.3L560.1 196.7L561.9 198L563.6 197.5L565.4 197.8L567.1 198.5L568.9 198.6L570.6 199.6L572.4 199.6L577.6 201.2L579.4 201L582.9 198.3L584.6 198.8L586.4 198.8L588.1 198.4L589.9 197.4L591.6 198.6L593.4 200.5L595.1 200.8L596.9 199.1L598.6 197.9L600.4 197.5L602.1 197.9L603.9 197.6L609.1 197.9L610.9 196.9L612.6 196.4L614.4 196.4L617.9 198.8L619.6 198.2L621.4 199L624.9 198.7L626.6 197.6L628.4 197.3L630.1 198.6L631.9 198.6L633.6 199.2L635.4 197.9L637.1 198.6L638.9 197.7L640.6 198.3L642.4 197.7L644.1 199L647.6 200.1L649.4 199.2L654.6 198.6L656.4 197.8L658.1 197.7L659.9 198.1L661.6 199.1" fill="none" stroke="#838383" stroke-width="1.9" stroke-linejoin="round" stroke-linecap="round" />
<path d="M540.9 197.2L542.6 196.5L544.4 197.6L546.1 196.8L547.9 197.1L549.6 196.1L551.4 197L553.1 196.3L554.9 196.9L558.4 196L560.1 196.6L563.6 196.6L565.4 195.6L567.1 195.5L568.9 196.9L570.6 196.6L572.4 198.6L574.1 198.2L575.9 199.2L577.6 197.7L579.4 196.9L582.9 197.1L584.6 198.1L586.4 198.1L588.1 196.9L589.9 197.5L591.6 197.5L593.4 198.9L595.1 197.8L598.6 197.3L600.4 196.8L602.1 196.6L603.9 197.2L605.6 196.7L609.1 197L610.9 196.2L612.6 196.2L614.4 196L616.1 198.5L617.9 198.1L619.6 198.6L621.4 198L623.1 198L624.9 197.2L630.1 197.8L631.9 197.5L633.6 198.5L635.4 198.5L637.1 199.3L638.9 198.4L640.6 198.6L642.4 198.3L644.1 199.1L645.9 197.4L647.6 197.7L649.4 196.9L651.1 198.4L652.9 196.7L654.6 196.4L656.4 195.5L658.1 195.3L659.9 195.4L661.6 196.7" fill="none" stroke="#838383" stroke-width="1.9" stroke-linejoin="round" stroke-linecap="round" />
<path d="M540.9 22.7L557.4 25.1L567.5 27.1L577.1 29.8L587.2 33.6L594.8 37.4L601.2 41.6L606.1 46.3L611.7 53.1L614.9 57.5L617.7 61.8L620.6 66.9L623 71.9L627.4 83.4L630.2 92.2L631.8 98.5L633 104.6L633.8 110.1L636.7 139.1L641.1 178.8L642.7 189.9L643.9 194.5L644.3 195.3L645.1 195.8L645.9 195.6L646.7 195L661.6 177.6" fill="none" stroke="#5258ec" stroke-width="1.6" stroke-linejoin="round" stroke-linecap="round" />
<path d="M371.5 229.2h3.2M371.5 222.52h1.8M371.5 218.61h1.8M371.5 215.83h1.8M371.5 213.68h1.8M371.5 211.93h1.8M371.5 210.44h1.8M371.5 209.15h1.8M371.5 208.02h1.8M371.5 207h3.2M371.5 200.32h1.8M371.5 196.41h1.8M371.5 193.63h1.8M371.5 191.48h1.8M371.5 189.73h1.8M371.5 188.24h1.8M371.5 186.95h1.8M371.5 185.82h1.8M371.5 184.8h3.2M371.5 178.12h1.8M371.5 174.21h1.8M371.5 171.43h1.8M371.5 169.28h1.8M371.5 167.53h1.8M371.5 166.04h1.8M371.5 164.75h1.8M371.5 163.62h1.8M371.5 162.6h3.2M371.5 155.92h1.8M371.5 152.01h1.8M371.5 149.23h1.8M371.5 147.08h1.8M371.5 145.33h1.8M371.5 143.84h1.8M371.5 142.55h1.8M371.5 141.42h1.8M371.5 140.4h3.2M371.5 133.72h1.8M371.5 129.81h1.8M371.5 127.03h1.8M371.5 124.88h1.8M371.5 123.13h1.8M371.5 121.64h1.8M371.5 120.35h1.8M371.5 119.22h1.8M371.5 118.2h3.2M371.5 111.52h1.8M371.5 107.61h1.8M371.5 104.83h1.8M371.5 102.68h1.8M371.5 100.93h1.8M371.5 99.44h1.8M371.5 98.15h1.8M371.5 97.02h1.8M371.5 96h3.2M371.5 89.32h1.8M371.5 85.41h1.8M371.5 82.63h1.8M371.5 80.48h1.8M371.5 78.73h1.8M371.5 77.24h1.8M371.5 75.95h1.8M371.5 74.82h1.8M371.5 73.8h3.2M371.5 67.12h1.8M371.5 63.21h1.8M371.5 60.43h1.8M371.5 58.28h1.8M371.5 56.53h1.8M371.5 55.04h1.8M371.5 53.75h1.8M371.5 52.62h1.8M371.5 51.6h3.2M371.5 44.92h1.8M371.5 41.01h1.8M371.5 38.23h1.8M371.5 36.08h1.8M371.5 34.33h1.8M371.5 32.84h1.8M371.5 31.55h1.8M371.5 30.42h1.8M371.5 29.4h3.2M371.5 22.72h1.8M371.5 18.81h1.8M371.5 16.03h1.8M371.5 13.88h1.8M371.5 12.13h1.8M371.5 10.64h1.8M371.5 9.35h1.8M371.5 8.22h1.8M371.5 7.2h3.2" stroke="#000" stroke-width="1.0" fill="none"/>
<path d="M524.8 229.2h3.2M524.8 222.52h1.8M524.8 218.61h1.8M524.8 215.83h1.8M524.8 213.68h1.8M524.8 211.93h1.8M524.8 210.44h1.8M524.8 209.15h1.8M524.8 208.02h1.8M524.8 207h3.2M524.8 200.32h1.8M524.8 196.41h1.8M524.8 193.63h1.8M524.8 191.48h1.8M524.8 189.73h1.8M524.8 188.24h1.8M524.8 186.95h1.8M524.8 185.82h1.8M524.8 184.8h3.2M524.8 178.12h1.8M524.8 174.21h1.8M524.8 171.43h1.8M524.8 169.28h1.8M524.8 167.53h1.8M524.8 166.04h1.8M524.8 164.75h1.8M524.8 163.62h1.8M524.8 162.6h3.2M524.8 155.92h1.8M524.8 152.01h1.8M524.8 149.23h1.8M524.8 147.08h1.8M524.8 145.33h1.8M524.8 143.84h1.8M524.8 142.55h1.8M524.8 141.42h1.8M524.8 140.4h3.2M524.8 133.72h1.8M524.8 129.81h1.8M524.8 127.03h1.8M524.8 124.88h1.8M524.8 123.13h1.8M524.8 121.64h1.8M524.8 120.35h1.8M524.8 119.22h1.8M524.8 118.2h3.2M524.8 111.52h1.8M524.8 107.61h1.8M524.8 104.83h1.8M524.8 102.68h1.8M524.8 100.93h1.8M524.8 99.44h1.8M524.8 98.15h1.8M524.8 97.02h1.8M524.8 96h3.2M524.8 89.32h1.8M524.8 85.41h1.8M524.8 82.63h1.8M524.8 80.48h1.8M524.8 78.73h1.8M524.8 77.24h1.8M524.8 75.95h1.8M524.8 74.82h1.8M524.8 73.8h3.2M524.8 67.12h1.8M524.8 63.21h1.8M524.8 60.43h1.8M524.8 58.28h1.8M524.8 56.53h1.8M524.8 55.04h1.8M524.8 53.75h1.8M524.8 52.62h1.8M524.8 51.6h3.2M524.8 44.92h1.8M524.8 41.01h1.8M524.8 38.23h1.8M524.8 36.08h1.8M524.8 34.33h1.8M524.8 32.84h1.8M524.8 31.55h1.8M524.8 30.42h1.8M524.8 29.4h3.2M524.8 22.72h1.8M524.8 18.81h1.8M524.8 16.03h1.8M524.8 13.88h1.8M524.8 12.13h1.8M524.8 10.64h1.8M524.8 9.35h1.8M524.8 8.22h1.8M524.8 7.2h3.2" stroke="#000" stroke-width="1.0" fill="none"/>
<path d="M387.64 229.2v-3M427.98 229.2v-3M468.32 229.2v-3M508.66 229.2v-3" stroke="#000" stroke-width="1.0" fill="none"/>
<path d="M540.89 229.2v-3M581.13 229.2v-3M621.37 229.2v-3M661.61 229.2v-3" stroke="#000" stroke-width="1.0" fill="none"/>
<path d="M371.5 7.2H677.7V229.2H371.5Z M524.8 7.2V229.2" fill="none" stroke="#000" stroke-width="1.5"/>
<text x="367.5" y="11.4" font-size="11.5" text-anchor="end" fill="#000">10<tspan font-size="7.82" dy="-5.87">1</tspan></text>
<text x="367.5" y="55.8" font-size="11.5" text-anchor="end" fill="#000">10<tspan font-size="7.82" dy="-5.87">-1</tspan></text>
<text x="367.5" y="100.2" font-size="11.5" text-anchor="end" fill="#000">10<tspan font-size="7.82" dy="-5.87">-3</tspan></text>
<text x="367.5" y="144.6" font-size="11.5" text-anchor="end" fill="#000">10<tspan font-size="7.82" dy="-5.87">-5</tspan></text>
<text x="367.5" y="189" font-size="11.5" text-anchor="end" fill="#000">10<tspan font-size="7.82" dy="-5.87">-7</tspan></text>
<text x="367.5" y="233.4" font-size="11.5" text-anchor="end" fill="#000">10<tspan font-size="7.82" dy="-5.87">-9</tspan></text>
<text x="387.64" y="241.8" font-size="11.5" text-anchor="middle" fill="#000" font-weight="normal" font-style="normal" >-0.5</text>
<text x="427.98" y="241.8" font-size="11.5" text-anchor="middle" fill="#000" font-weight="normal" font-style="normal" >0.0</text>
<text x="468.32" y="241.8" font-size="11.5" text-anchor="middle" fill="#000" font-weight="normal" font-style="normal" >0.5</text>
<text x="508.66" y="241.8" font-size="11.5" text-anchor="middle" fill="#000" font-weight="normal" font-style="normal" >1.0</text>
<text x="540.89" y="241.8" font-size="11.5" text-anchor="middle" fill="#000" font-weight="normal" font-style="normal" >-1.0</text>
<text x="581.13" y="241.8" font-size="11.5" text-anchor="middle" fill="#000" font-weight="normal" font-style="normal" >-0.5</text>
<text x="621.37" y="241.8" font-size="11.5" text-anchor="middle" fill="#000" font-weight="normal" font-style="normal" >0.0</text>
<text x="661.61" y="241.8" font-size="11.5" text-anchor="middle" fill="#000" font-weight="normal" font-style="normal" >0.5</text>
<text x="448.2" y="268" font-size="12.5" text-anchor="middle"><tspan font-style="italic">V</tspan><tspan font-size="8.5" dy="2.5">GS</tspan><tspan dy="-2.5"> (V)</tspan></text>
<text x="601.2" y="268" font-size="12.5" text-anchor="middle"><tspan font-style="italic">V</tspan><tspan font-size="8.5" dy="2.5">GS</tspan><tspan dy="-2.5"> (V)</tspan></text>
<text transform="translate(329.3 118.2) rotate(-90)" font-size="12.9" text-anchor="middle"><tspan font-style="italic">I</tspan><tspan font-size="8.8" dy="2.5">DS</tspan><tspan dy="-2.5"> (µA/µm)</tspan></text>
<text x="381" y="22.1" font-size="10.5" text-anchor="start" fill="#f26a6c" font-weight="normal" font-style="normal" >40 devices</text>
<text x="380.6" y="33.5" font-size="10.5" fill="#f26a6c">MoS<tspan font-size="7.5" dy="2.5">2</tspan><tspan dy="-2.5"> nFET</tspan></text>
<text x="643.1" y="19.9" font-size="10.5" text-anchor="middle" fill="#6b8cf2" font-weight="normal" font-style="normal" >40 devices</text>
<text x="643.1" y="32.4" font-size="10.5" fill="#6b8cf2" text-anchor="middle">WSe<tspan font-size="7.5" dy="2.5">2</tspan><tspan dy="-2.5"> pFET</tspan></text>
<text x="473" y="129.2" font-size="10.5" fill="#f26a6c" text-anchor="middle">SS<tspan font-size="7.5" dy="2.4">4order</tspan></text>
<text x="473.2" y="141.8" font-size="10.5" text-anchor="middle" fill="#f26a6c" font-weight="normal" font-style="normal" >= 61 mV/dec</text>
<text x="576.4" y="129.2" font-size="10.5" fill="#6b8cf2" text-anchor="middle">SS<tspan font-size="7.5" dy="2.4">4order</tspan></text>
<text x="573.7" y="141.8" font-size="10.5" text-anchor="middle" fill="#6b8cf2" font-weight="normal" font-style="normal" >= 63 mV/dec</text>
<path d="M416.1 131.3L437.2 131.3" stroke="#f0585c" stroke-width="1.3" fill="none"/>
<path d="M441.2 131.3L436.2 134.1L437.4 131.3L436.2 128.5Z" fill="#f0585c"/>
<path d="M636.2 129.1L614.8 129.1" stroke="#5258ec" stroke-width="1.3" fill="none"/>
<path d="M610.8 129.1L615.8 126.3L614.6 129.1L615.8 131.9Z" fill="#5258ec"/>
<text x="503.2" y="214" font-size="9.5" fill="#8a8a8a"><tspan font-style="italic">I</tspan><tspan font-size="6.8" dy="2">GS</tspan></text>
<text x="536.5" y="214" font-size="9.5" fill="#8a8a8a"><tspan font-style="italic">I</tspan><tspan font-size="6.8" dy="2">GS</tspan></text>
<text x="-0.5" y="304.6" font-size="16" text-anchor="start" fill="#000" font-weight="bold" font-style="normal" >d</text>
<path d="M96.2 443.3L108.9 464.1L110.2 465.2L110.8 464.9L111.5 463.7L113.4 455.1L115.3 443.3L119.7 402.4L122.3 382.8L123.5 375.4L125.4 368.9L128 363L132.4 355.2L137.5 348.3L142.6 342.9L148.9 337.5L154.7 333.8L161.6 330.3L168.6 327.5L175.6 325.4L186.4 323.2L197.2 321.6" fill="none" stroke="#f7b0b0" stroke-width="1.25" stroke-linejoin="round" stroke-linecap="round" />
<path d="M97.3 437.2L109.2 462.4L110.5 464.3L111.1 464.7L111.7 464.1L113 459.7L115.5 445.1L120.5 399.7L123.7 377.1L124.9 372L126.8 366.7L128.7 362.6L131.2 358.2L136.2 351L141.3 345.4L145 342L148.8 338.9L152.6 336.3L156.4 334.1L165.2 330L174 327L185.3 324.5L197.2 322.7" fill="none" stroke="#f7b0b0" stroke-width="1.25" stroke-linejoin="round" stroke-linecap="round" />
<path d="M96 440.5L108.1 462.9L109.4 464.4L110 464.3L110.6 463.3L111.3 461.3L112.5 455.1L114.4 443.2L118.9 402.3L121.4 382.7L122.7 375.4L124.6 369L127.2 363.3L131 356.9L135.5 351.1L140.5 346L148.2 340L154.6 336.1L161.6 332.7L168.6 330L175.6 328L186.4 325.8L197.2 324.2" fill="none" stroke="#f27b7d" stroke-width="1.25" stroke-linejoin="round" stroke-linecap="round" />
<path d="M97.5 433.4L108.1 459.1L109.4 461.7L110 462.6L110.6 462.8L111.3 461.9L111.9 460L114.4 446.5L115.7 436.8L119.4 401.4L122.6 378.4L123.8 372.9L125.7 367.4L127.6 363.3L130.1 359L134.5 352.8L137 350L140.1 346.9L148.3 340.4L152 337.9L155.8 335.7L164.6 331.8L173.4 328.8L184.7 326.3L197.2 324.4" fill="none" stroke="#f27b7d" stroke-width="1.25" stroke-linejoin="round" stroke-linecap="round" />
<path d="M97 438.1L107.7 459.9L109 461.5L109.6 461.4L110.2 460.4L111.5 455.7L113.4 444.8L118.4 399.3L121.6 376.8L123.5 369.9L126 363.9L130.4 356.4L134.8 350.6L140.5 345L147.4 339.6L153.7 335.6L160.7 332.3L168.2 329.4L175.2 327.5L185.9 325.3L197.2 323.7" fill="none" stroke="#f04a4e" stroke-width="1.25" stroke-linejoin="round" stroke-linecap="round" />
<path d="M96.4 433.1L107.8 460.7L109 463L109.7 463.3L110.3 462.7L110.9 460.8L112.2 454.7L114.1 442.7L118.6 401.9L121.7 378.5L123 372.9L124.9 367.3L126.8 363.2L129.3 358.8L133.8 352.5L136.3 349.5L139.5 346.4L143.9 342.6L147.7 339.8L151.5 337.3L155.4 335.1L164.2 331.1L173.1 328.2L184.5 325.7L197.2 323.9" fill="none" stroke="#f04a4e" stroke-width="1.25" stroke-linejoin="round" stroke-linecap="round" />
<path d="M96.1 444L106.9 461L107.6 461.6L108.2 461.8L108.9 461.3L109.5 459.9L111.4 451.4L112.7 443.4L117.1 402.7L119.7 383.1L120.9 375.6L122.8 369.2L125.4 363.4L129.2 357L133 351.9L138.1 346.7L145.7 340.6L152.1 336.6L159.7 332.9L167.3 330L175 327.9L185.8 325.8L197.2 324.2" fill="none" stroke="#ee3b3f" stroke-width="1.25" stroke-linejoin="round" stroke-linecap="round" />
<path d="M95.9 432.4L106.7 459.3L108 462L108.6 462.8L109.3 462.8L109.9 461.6L110.5 459.3L113.1 444.9L118.2 399L120.1 384.4L121.4 376.5L122.6 371.6L124.6 366.4L126.5 362.5L129 358.2L133.5 352L136 349.2L139.2 346.2L143.7 342.5L147.5 339.7L151.3 337.2L155.1 335.2L164.1 331.2L172.4 328.5L184.5 325.9L197.2 324.1" fill="none" stroke="#ee3b3f" stroke-width="1.25" stroke-linejoin="round" stroke-linecap="round" />
<path d="M64.1 327.1L76.1 330L85.4 332.7L93.4 335.7L100 339L107.3 343.6L116 350.5L121.3 355.8L125.3 361.1L128 365.8L130.6 371.7L132.6 377.4L134 382.8L138 403L145.9 451.3L147.3 457.1L147.9 458.6L148.6 459.1L149.3 458.9L149.9 458.4L155.9 451.5L159.9 447.8L163.9 445.3L169.9 442.5" fill="none" stroke="#c4c6f4" stroke-width="1.25" stroke-linejoin="round" stroke-linecap="round" />
<path d="M64.1 328.1L75.5 330.9L84.9 333.6L93 336.7L99.7 340L107.1 344.7L115.8 351.5L121.2 356.9L125.2 362.2L127.9 367L129.9 371.5L131.9 377.1L133.2 382.4L137.3 402.5L145.3 450.7L146.7 455.6L147.3 456.7L148 456.8L149.4 455.8L155.4 448.6L159.4 444.7L164.1 441.7L170.8 438.7" fill="none" stroke="#c4c6f4" stroke-width="1.25" stroke-linejoin="round" stroke-linecap="round" />
<path d="M64.1 326.9L76.2 329.8L85.7 332.5L93.1 335.3L100.5 338.8L107.9 343.5L116.6 350.5L122 356L126.1 361.4L128.8 366.2L130.8 370.7L132.8 376.1L134.2 381.1L138.2 401.1L146.3 449.4L147.6 454.5L148.3 455.7L149 456L150.3 455L156.4 448.1L160.4 444.5L165.1 441.8L171.2 439.1" fill="none" stroke="#7f82ec" stroke-width="1.25" stroke-linejoin="round" stroke-linecap="round" />
<path d="M64.1 328.1L76.3 331L85.7 333.8L93.8 336.9L100.5 340.2L108 344.9L116.7 351.8L122.1 357.2L126.2 362.7L128.9 367.6L130.9 372.2L132.9 378.1L134.3 383.6L138.3 404.2L146.4 453.1L147.8 458.7L148.4 459.9L149.1 460.2L150.5 459.3L156.5 452.4L159.9 449.3L164.6 446.5L171.4 443.4" fill="none" stroke="#7f82ec" stroke-width="1.25" stroke-linejoin="round" stroke-linecap="round" />
<path d="M64.1 327.5L76.9 330.6L86.3 333.3L93.7 336L101.1 339.5L108.5 344.1L117.2 350.8L122.6 356.1L126.7 361.2L129.3 365.8L132 371.6L134.1 377.2L135.4 382.5L139.4 402.8L147.5 451.2L148.9 456.5L149.5 457.8L150.2 458.1L151.5 457.2L156.9 451.3L160.3 448.3L165 445.5L171 442.8" fill="none" stroke="#4a4ee8" stroke-width="1.25" stroke-linejoin="round" stroke-linecap="round" />
<path d="M64.1 329.2L76.8 332.3L86.1 335L93.4 337.7L100.7 341.1L108.1 345.7L117.4 352.7L122.7 357.8L126.7 362.9L129.4 367.5L131.4 371.9L133.4 377.3L134.7 382.4L138.7 402.3L147.4 454.2L148.7 459.3L149.4 460.3L150 460.4L151.4 459.5L156.7 453.5L160 450.5L164 448L170 445.3" fill="none" stroke="#4a4ee8" stroke-width="1.25" stroke-linejoin="round" stroke-linecap="round" />
<path d="M64.1 327.1L77.6 330.3L87 333L94.4 335.7L101.8 339.1L109.2 343.8L117.9 350.6L123.3 355.8L127.4 361L130.1 365.5L132.8 371.3L134.8 376.9L136.1 382.1L140.2 402.4L147.6 446.9L148.9 453.3L149.6 455.3L150.3 456.4L150.9 456.6L151.6 456.3L157 450.5L160.3 447.6L165.1 444.8L171.1 442.1" fill="none" stroke="#3c40e6" stroke-width="1.25" stroke-linejoin="round" stroke-linecap="round" />
<path d="M64.1 326.6L76.9 329.6L86.4 332.3L93.8 335L101.2 338.4L108.6 343.1L116.7 349.4L122.1 354.6L126.8 360.5L129.5 365.1L132.2 370.9L134.2 376.4L135.6 381.5L139.6 401.6L147 446L148.4 452L149 453.7L149.7 454.5L150.4 454.5L151.1 454.1L157.1 447.4L160.5 444.5L165.2 441.8L171.3 439.1" fill="none" stroke="#3c40e6" stroke-width="1.25" stroke-linejoin="round" stroke-linecap="round" />
<path d="M52.6 476.8h3.2M52.6 471.69h1.8M52.6 468.69h1.8M52.6 466.57h1.8M52.6 464.92h1.8M52.6 463.58h1.8M52.6 462.44h1.8M52.6 461.46h1.8M52.6 460.59h1.8M52.6 459.81h3.2M52.6 454.7h1.8M52.6 451.7h1.8M52.6 449.58h1.8M52.6 447.93h1.8M52.6 446.59h1.8M52.6 445.45h1.8M52.6 444.47h1.8M52.6 443.6h1.8M52.6 442.82h3.2M52.6 437.71h1.8M52.6 434.71h1.8M52.6 432.59h1.8M52.6 430.94h1.8M52.6 429.6h1.8M52.6 428.46h1.8M52.6 427.48h1.8M52.6 426.61h1.8M52.6 425.83h3.2M52.6 420.72h1.8M52.6 417.72h1.8M52.6 415.6h1.8M52.6 413.95h1.8M52.6 412.61h1.8M52.6 411.47h1.8M52.6 410.49h1.8M52.6 409.62h1.8M52.6 408.84h3.2M52.6 403.73h1.8M52.6 400.73h1.8M52.6 398.61h1.8M52.6 396.96h1.8M52.6 395.62h1.8M52.6 394.48h1.8M52.6 393.5h1.8M52.6 392.63h1.8M52.6 391.85h3.2M52.6 386.74h1.8M52.6 383.74h1.8M52.6 381.62h1.8M52.6 379.97h1.8M52.6 378.63h1.8M52.6 377.49h1.8M52.6 376.51h1.8M52.6 375.64h1.8M52.6 374.86h3.2M52.6 369.75h1.8M52.6 366.75h1.8M52.6 364.63h1.8M52.6 362.98h1.8M52.6 361.64h1.8M52.6 360.5h1.8M52.6 359.52h1.8M52.6 358.65h1.8M52.6 357.87h3.2M52.6 352.76h1.8M52.6 349.76h1.8M52.6 347.64h1.8M52.6 345.99h1.8M52.6 344.65h1.8M52.6 343.51h1.8M52.6 342.53h1.8M52.6 341.66h1.8M52.6 340.88h3.2M52.6 335.77h1.8M52.6 332.77h1.8M52.6 330.65h1.8M52.6 329h1.8M52.6 327.66h1.8M52.6 326.52h1.8M52.6 325.54h1.8M52.6 324.67h1.8M52.6 323.89h3.2M52.6 318.78h1.8M52.6 315.78h1.8M52.6 313.66h1.8M52.6 312.01h1.8M52.6 310.67h1.8M52.6 309.53h1.8M52.6 308.55h1.8M52.6 307.68h1.8M52.6 306.9h3.2" stroke="#000" stroke-width="1.0" fill="none"/>
<path d="M68.15 476.8v-3M99.25 476.8v-3M130.35 476.8v-3M161.45 476.8v-3M192.55 476.8v-3" stroke="#000" stroke-width="1.0" fill="none"/>
<rect x="52.6" y="306.9" width="155.5" height="169.9" fill="none" stroke="#000" stroke-width="1.5"/>
<text x="49" y="310.8" font-size="10.6" text-anchor="end" fill="#000">10<tspan font-size="7.21" dy="-5.53">1</tspan></text>
<text x="49" y="344.78" font-size="10.6" text-anchor="end" fill="#000">10<tspan font-size="7.21" dy="-5.53">-1</tspan></text>
<text x="49" y="378.76" font-size="10.6" text-anchor="end" fill="#000">10<tspan font-size="7.21" dy="-5.53">-3</tspan></text>
<text x="49" y="412.74" font-size="10.6" text-anchor="end" fill="#000">10<tspan font-size="7.21" dy="-5.53">-5</tspan></text>
<text x="49" y="446.72" font-size="10.6" text-anchor="end" fill="#000">10<tspan font-size="7.21" dy="-5.53">-7</tspan></text>
<text x="49" y="480.7" font-size="10.6" text-anchor="end" fill="#000">10<tspan font-size="7.21" dy="-5.53">-9</tspan></text>
<text x="68.15" y="489.2" font-size="11.1" text-anchor="middle" fill="#000" font-weight="normal" font-style="normal" >-1.0</text>
<text x="99.25" y="489.2" font-size="11.1" text-anchor="middle" fill="#000" font-weight="normal" font-style="normal" >-0.5</text>
<text x="130.35" y="489.2" font-size="11.1" text-anchor="middle" fill="#000" font-weight="normal" font-style="normal" >0.0</text>
<text x="161.45" y="489.2" font-size="11.1" text-anchor="middle" fill="#000" font-weight="normal" font-style="normal" >0.5</text>
<text x="192.55" y="489.2" font-size="11.1" text-anchor="middle" fill="#000" font-weight="normal" font-style="normal" >1.0</text>
<text x="57.1" y="316.6" font-size="10.2" text-anchor="start" fill="#111" font-weight="normal" font-style="normal" >Gate sweep rate dependency</text>
<path d="M59.3 356.4H78.5" stroke="#ee3b3f" stroke-width="1.8"/>
<text x="82.7" y="359.3" font-size="8" text-anchor="start" fill="#222" font-weight="normal" font-style="normal" >0.010 V/s</text>
<path d="M59.3 366.2H78.5" stroke="#f04a4e" stroke-width="1.8"/>
<text x="82.7" y="369.1" font-size="8" text-anchor="start" fill="#222" font-weight="normal" font-style="normal" >0.025 V/s</text>
<path d="M59.3 376.2H78.5" stroke="#f27b7d" stroke-width="1.8"/>
<text x="82.7" y="379.1" font-size="8" text-anchor="start" fill="#222" font-weight="normal" font-style="normal" >0.050 V/s</text>
<path d="M59.3 386H78.5" stroke="#f7b0b0" stroke-width="1.8"/>
<text x="82.7" y="388.9" font-size="8" text-anchor="start" fill="#222" font-weight="normal" font-style="normal" >0.100 V/s</text>
<path d="M144.6 356.4H163.8" stroke="#3c40e6" stroke-width="1.8"/>
<text x="167.3" y="359.3" font-size="8" text-anchor="start" fill="#222" font-weight="normal" font-style="normal" >0.010 V/s</text>
<path d="M144.6 366.2H163.8" stroke="#4a4ee8" stroke-width="1.8"/>
<text x="167.3" y="369.1" font-size="8" text-anchor="start" fill="#222" font-weight="normal" font-style="normal" >0.025 V/s</text>
<path d="M144.6 376.2H163.8" stroke="#7f82ec" stroke-width="1.8"/>
<text x="167.3" y="379.1" font-size="8" text-anchor="start" fill="#222" font-weight="normal" font-style="normal" >0.050 V/s</text>
<path d="M144.6 386H163.8" stroke="#c4c6f4" stroke-width="1.8"/>
<text x="167.3" y="388.9" font-size="8" text-anchor="start" fill="#222" font-weight="normal" font-style="normal" >0.100 V/s</text>
<text x="59.8" y="471.6" font-size="9.9" fill="#f26a6c" text-anchor="start">MoS<tspan font-size="6.93" dy="2.5">2</tspan><tspan dy="-2.5"> nFET</tspan></text>
<text x="204.4" y="471.6" font-size="10" fill="#6b8cf2" text-anchor="end">WSe<tspan font-size="7" dy="2.5">2</tspan><tspan dy="-2.5"> pFET</tspan></text>
<text x="132.7" y="521.9" font-size="12.5" text-anchor="middle"><tspan font-style="italic">V</tspan><tspan font-size="8.5" dy="2.5">GS</tspan><tspan dy="-2.5"> (V)</tspan></text>
<text transform="translate(10.9 392.25) rotate(-90)" font-size="13" text-anchor="middle"><tspan font-style="italic">I</tspan><tspan font-size="8.84" dy="2.5">DS</tspan><tspan dy="-2.5"> (µA/µm)</tspan></text>
<text x="1.2" y="557.3" font-size="16" text-anchor="start" fill="#000" font-weight="bold" font-style="normal" >g</text>
<path d="M101 688L111.1 714.9L111.9 716.2L112.4 716.4L112.9 716.1L113.7 714.8L115.1 711.2L116.1 706.8L118.8 686.6L121.7 667.8L124.6 652.9L127.8 639.6L131.5 627.1L135.2 616.9L138.9 609.5L143.1 602.9" fill="none" stroke="#f7b0b0" stroke-width="1.25" stroke-linejoin="round" stroke-linecap="round" />
<path d="M100.5 693.8L110.7 716.7L111.5 717.9L112 718.1L112.6 717.8L113.4 716.4L115 711.9L116.3 706.2L119 685.5L121.7 668.3L124.4 654.3L127.8 639.5L131.3 627.5L135.1 616.9L138.8 609.1L143.1 602.2" fill="none" stroke="#f7b0b0" stroke-width="1.25" stroke-linejoin="round" stroke-linecap="round" />
<path d="M100.3 698.7L109.7 716.1L110.4 716.9L111.1 717L112.1 715.8L113.9 711.4L115.2 705.6L119.1 677.3L121.1 664.7L123.2 654.2L127.4 636.9L131.9 622.3L134 616.8L136.1 612.2L139.2 606.4L142.3 601.7L144.7 598.8L147.9 595.9L151.3 593.3L155.5 590.8" fill="none" stroke="#f27b7d" stroke-width="1.25" stroke-linejoin="round" stroke-linecap="round" />
<path d="M100.7 702.6L110 717.1L110.7 717.7L111.4 717.7L112.4 716.3L114.5 710.7L115.9 704.5L119.7 676.3L121.7 663.9L123.4 655.2L127.6 637.8L132.1 623.2L134.1 617.6L136.2 612.8L139.3 607.1L142.4 602.3L144.8 599.3L147.9 596.4L151.4 593.7L155.5 591.2" fill="none" stroke="#f27b7d" stroke-width="1.25" stroke-linejoin="round" stroke-linecap="round" />
<path d="M101.1 700.1L107.8 712.1L109.5 714.6L110.4 715.1L110.8 715L112 713.5L113.3 710.4L114.6 705.4L117.1 686L119.2 672.2L121.3 660.4L123.4 650.4L125.5 641.6L128 632.5L130.9 623.4L133.9 615.7L136.8 609.9L140.2 604.3L143.1 600.5L146 597.6L150.7 594.1L155.7 591.2L162 588.2L167.9 586.3" fill="none" stroke="#f04a4e" stroke-width="1.25" stroke-linejoin="round" stroke-linecap="round" />
<path d="M101 698.7L109.4 714.3L110.2 715.1L110.7 715.1L111.1 714.9L111.9 713.9L113.6 709.8L114.9 704.1L117 687.4L119.1 673.3L121.2 661.3L123.7 649.3L125.8 640.5L128.3 631.4L131.3 622.3L134.2 614.7L137.2 608.7L140.5 603.1L143.5 599.2L146.4 596.3L150.6 593L155.7 590L162 587L167.9 585.1" fill="none" stroke="#f04a4e" stroke-width="1.25" stroke-linejoin="round" stroke-linecap="round" />
<path d="M99.7 702.1L106.8 713.6L108.4 715.8L108.9 716.2L109.5 716.2L110 715.8L111.6 712.7L112.7 709.5L113.8 704.5L116.5 683.6L119.8 663.5L122.5 650.4L125.2 639.2L128.4 628.1L132.2 617.3L136 609.4L140.3 602.5L143.6 598.6L147.9 594.9L152.8 591.7L159.3 588.5L163.6 586.8L168 585.5L185.8 582.3" fill="none" stroke="#ee3b3f" stroke-width="1.25" stroke-linejoin="round" stroke-linecap="round" />
<path d="M100.8 702.7L107.2 712.8L108.9 714.9L109.4 715.2L109.9 715.2L110.5 714.8L112.1 712L113.1 708.8L114.2 703.7L116.9 683L120.1 663.3L122.2 652.8L124.9 641.4L128.6 628.5L132.4 618L135.6 611.3L139.9 604.4L143.1 600.5L147.9 596.3L152.7 593.2L159.1 590L163.9 588.1L168.2 586.9L185.8 583.7" fill="none" stroke="#ee3b3f" stroke-width="1.25" stroke-linejoin="round" stroke-linecap="round" />
<path d="M118.4 606.5L122.5 612.9L125.6 618.7L128.7 626L130.9 632.8L134.5 648.7L142.3 687.7L146.2 708.4L147 711.9L147.9 714.2L148.1 714.6L148.7 714.7L149.5 713.9L156.8 702.9L162.6 695" fill="none" stroke="#c4c6f4" stroke-width="1.25" stroke-linejoin="round" stroke-linecap="round" />
<path d="M118.4 606.9L122.5 613.2L125.8 619.4L128.8 626.7L131 633.6L134.9 650.8L142.3 688L146.4 710.3L147.5 715.1L148.1 716.5L148.3 716.9L148.9 717L149.7 716.3L156.6 705.9L162.1 698.4" fill="none" stroke="#c4c6f4" stroke-width="1.25" stroke-linejoin="round" stroke-linecap="round" />
<path d="M106 593.4L109.9 596.3L113.4 599.5L116.3 602.6L119.5 606.7L122.6 611.5L125.5 616.6L128 621.9L130.1 627.3L131.9 632.9L134 641.7L146.4 704.1L147.4 708.6L148.1 710.4L148.9 711.3L149.2 711.4L149.9 710.9L157 700.3L162.3 693.1" fill="none" stroke="#7f82ec" stroke-width="1.25" stroke-linejoin="round" stroke-linecap="round" />
<path d="M106 594.1L109.9 597.1L113.5 600.3L116.7 604L119.9 608.3L123.1 613.3L125.6 617.9L128.1 623.5L130.3 629.2L132.1 635.4L134.2 644.8L142.8 687.6L147.1 711.1L148.1 716.1L148.9 718.1L149.6 718.5L150.6 717.5L157.4 707.4L162.8 700.3" fill="none" stroke="#7f82ec" stroke-width="1.25" stroke-linejoin="round" stroke-linecap="round" />
<path d="M93.6 586.8L100.2 589.5L104.5 591.9L109.3 595.3L114.1 599.5L117.6 603.4L121.5 608.8L125 614.5L128 620.6L131.5 629.7L134.1 639.6L143.3 684.8L147.6 708L149.4 714.8L149.8 715.5L150.2 715.6L151.1 714.9L158.1 704.8L162.9 698.4" fill="none" stroke="#4a4ee8" stroke-width="1.25" stroke-linejoin="round" stroke-linecap="round" />
<path d="M93.6 587.2L99.7 589.8L104 592.2L109.2 595.8L113.9 600L117.3 603.8L121.2 609.2L124.7 614.8L127.7 620.9L131.2 629.9L133.7 639.7L142.8 684.4L147.1 706.8L148 710.3L148.8 712.4L149.3 712.9L149.7 712.9L150.6 712.1L157 702.4L162.2 695.4" fill="none" stroke="#4a4ee8" stroke-width="1.25" stroke-linejoin="round" stroke-linecap="round" />
<path d="M72.6 582.8L83.4 584.5L88.5 585.5L94.2 587.2L100.4 589.8L105 592.3L110.1 595.9L114.7 599.9L118.6 604.3L123.2 610.6L127.2 617.6L130 623.9L132.9 632.1L136.3 646.6L147.6 704.1L149.3 710.8L149.9 711.9L150.5 712.3L151.6 711.4L157.9 702.2L163 695.4" fill="none" stroke="#3c40e6" stroke-width="1.25" stroke-linejoin="round" stroke-linecap="round" />
<path d="M72.6 582L83.4 583.7L89.1 584.9L94.8 586.7L101 589.4L106.1 592.3L111.2 596.2L115.2 599.8L119.2 604.5L123.8 611.2L127.2 617.4L130 623.8L132.9 632L136.3 646.7L144.2 686.5L148.2 707.8L149.9 714.5L150.5 715.4L151 715.4L151.6 715L158.4 705.2L163 699.2" fill="none" stroke="#3c40e6" stroke-width="1.25" stroke-linejoin="round" stroke-linecap="round" />
<path d="M53.4 735.3h3.2M53.4 730.15h1.8M53.4 727.14h1.8M53.4 725h1.8M53.4 723.34h1.8M53.4 721.99h1.8M53.4 720.84h1.8M53.4 719.85h1.8M53.4 718.97h1.8M53.4 718.19h3.2M53.4 713.04h1.8M53.4 710.03h1.8M53.4 707.89h1.8M53.4 706.23h1.8M53.4 704.88h1.8M53.4 703.73h1.8M53.4 702.74h1.8M53.4 701.86h1.8M53.4 701.08h3.2M53.4 695.93h1.8M53.4 692.92h1.8M53.4 690.78h1.8M53.4 689.12h1.8M53.4 687.77h1.8M53.4 686.62h1.8M53.4 685.63h1.8M53.4 684.75h1.8M53.4 683.97h3.2M53.4 678.82h1.8M53.4 675.81h1.8M53.4 673.67h1.8M53.4 672.01h1.8M53.4 670.66h1.8M53.4 669.51h1.8M53.4 668.52h1.8M53.4 667.64h1.8M53.4 666.86h3.2M53.4 661.71h1.8M53.4 658.7h1.8M53.4 656.56h1.8M53.4 654.9h1.8M53.4 653.55h1.8M53.4 652.4h1.8M53.4 651.41h1.8M53.4 650.53h1.8M53.4 649.75h3.2M53.4 644.6h1.8M53.4 641.59h1.8M53.4 639.45h1.8M53.4 637.79h1.8M53.4 636.44h1.8M53.4 635.29h1.8M53.4 634.3h1.8M53.4 633.42h1.8M53.4 632.64h3.2M53.4 627.49h1.8M53.4 624.48h1.8M53.4 622.34h1.8M53.4 620.68h1.8M53.4 619.33h1.8M53.4 618.18h1.8M53.4 617.19h1.8M53.4 616.31h1.8M53.4 615.53h3.2M53.4 610.38h1.8M53.4 607.37h1.8M53.4 605.23h1.8M53.4 603.57h1.8M53.4 602.22h1.8M53.4 601.07h1.8M53.4 600.08h1.8M53.4 599.2h1.8M53.4 598.42h3.2M53.4 593.27h1.8M53.4 590.26h1.8M53.4 588.12h1.8M53.4 586.46h1.8M53.4 585.11h1.8M53.4 583.96h1.8M53.4 582.97h1.8M53.4 582.09h1.8M53.4 581.31h3.2M53.4 576.16h1.8M53.4 573.15h1.8M53.4 571.01h1.8M53.4 569.35h1.8M53.4 568h1.8M53.4 566.85h1.8M53.4 565.86h1.8M53.4 564.98h1.8M53.4 564.2h3.2" stroke="#000" stroke-width="1.0" fill="none"/>
<path d="M68.87 735.3v-3M99.81 735.3v-3M130.75 735.3v-3M161.69 735.3v-3M192.63 735.3v-3" stroke="#000" stroke-width="1.0" fill="none"/>
<rect x="53.4" y="564.2" width="154.7" height="171.1" fill="none" stroke="#000" stroke-width="1.5"/>
<text x="49.8" y="568.1" font-size="10.6" text-anchor="end" fill="#000">10<tspan font-size="7.21" dy="-5.53">1</tspan></text>
<text x="49.8" y="602.32" font-size="10.6" text-anchor="end" fill="#000">10<tspan font-size="7.21" dy="-5.53">-1</tspan></text>
<text x="49.8" y="636.54" font-size="10.6" text-anchor="end" fill="#000">10<tspan font-size="7.21" dy="-5.53">-3</tspan></text>
<text x="49.8" y="670.76" font-size="10.6" text-anchor="end" fill="#000">10<tspan font-size="7.21" dy="-5.53">-5</tspan></text>
<text x="49.8" y="704.98" font-size="10.6" text-anchor="end" fill="#000">10<tspan font-size="7.21" dy="-5.53">-7</tspan></text>
<text x="49.8" y="739.2" font-size="10.6" text-anchor="end" fill="#000">10<tspan font-size="7.21" dy="-5.53">-9</tspan></text>
<text x="68.87" y="747.7" font-size="11.1" text-anchor="middle" fill="#000" font-weight="normal" font-style="normal" >-1.0</text>
<text x="99.81" y="747.7" font-size="11.1" text-anchor="middle" fill="#000" font-weight="normal" font-style="normal" >-0.5</text>
<text x="130.75" y="747.7" font-size="11.1" text-anchor="middle" fill="#000" font-weight="normal" font-style="normal" >0.0</text>
<text x="161.69" y="747.7" font-size="11.1" text-anchor="middle" fill="#000" font-weight="normal" font-style="normal" >0.5</text>
<text x="192.63" y="747.7" font-size="11.1" text-anchor="middle" fill="#000" font-weight="normal" font-style="normal" >1.0</text>
<text x="56.8" y="573.9" font-size="10.2" text-anchor="start" fill="#111" font-weight="normal" font-style="normal" >Gate sweep range dependency</text>
<path d="M54.3 619.9H73.6" stroke="#ee3b3f" stroke-width="1.8"/>
<text x="77.8" y="622.8" font-size="8" text-anchor="start" fill="#222" font-weight="normal" font-style="normal" >-0.5 to 0.8 V</text>
<path d="M54.3 629.7H73.6" stroke="#f04a4e" stroke-width="1.8"/>
<text x="77.8" y="632.6" font-size="8" text-anchor="start" fill="#222" font-weight="normal" font-style="normal" >-0.5 to 0.6 V</text>
<path d="M54.3 639.5H73.6" stroke="#f27b7d" stroke-width="1.8"/>
<text x="77.8" y="642.4" font-size="8" text-anchor="start" fill="#222" font-weight="normal" font-style="normal" >-0.5 to 0.4 V</text>
<path d="M54.3 649.3H73.6" stroke="#f7b0b0" stroke-width="1.8"/>
<text x="77.8" y="652.2" font-size="8" text-anchor="start" fill="#222" font-weight="normal" font-style="normal" >-0.5 to 0.2 V</text>
<path d="M139.5 618.1H158.4" stroke="#3c40e6" stroke-width="1.8"/>
<text x="162.2" y="621" font-size="8" text-anchor="start" fill="#222" font-weight="normal" font-style="normal" >0.5 to -0.8 V</text>
<path d="M139.5 627.9H158.4" stroke="#4a4ee8" stroke-width="1.8"/>
<text x="162.2" y="630.8" font-size="8" text-anchor="start" fill="#222" font-weight="normal" font-style="normal" >0.5 to -0.6 V</text>
<path d="M139.5 638.1H158.4" stroke="#7f82ec" stroke-width="1.8"/>
<text x="162.2" y="641" font-size="8" text-anchor="start" fill="#222" font-weight="normal" font-style="normal" >0.5 to -0.4 V</text>
<path d="M139.5 647.9H158.4" stroke="#c4c6f4" stroke-width="1.8"/>
<text x="162.2" y="650.8" font-size="8" text-anchor="start" fill="#222" font-weight="normal" font-style="normal" >0.5 to -0.2 V</text>
<text x="60.6" y="730.1" font-size="9.9" fill="#f26a6c" text-anchor="start">MoS<tspan font-size="6.93" dy="2.5">2</tspan><tspan dy="-2.5"> nFET</tspan></text>
<text x="204.4" y="730.1" font-size="10" fill="#6b8cf2" text-anchor="end">WSe<tspan font-size="7" dy="2.5">2</tspan><tspan dy="-2.5"> pFET</tspan></text>
<text x="132.7" y="778" font-size="12.5" text-anchor="middle"><tspan font-style="italic">V</tspan><tspan font-size="8.5" dy="2.5">GS</tspan><tspan dy="-2.5"> (V)</tspan></text>
<text transform="translate(10.9 650.15) rotate(-90)" font-size="13" text-anchor="middle"><tspan font-style="italic">I</tspan><tspan font-size="8.84" dy="2.5">DS</tspan><tspan dy="-2.5"> (µA/µm)</tspan></text>
<text x="234.2" y="304.3" font-size="16" text-anchor="start" fill="#000" font-weight="bold" font-style="normal" >e</text>
<clipPath id="clipe"><rect x="284.3" y="303.3" width="161.7" height="177.2"/></clipPath>
<g clip-path="url(#clipe)">
<path d="M315.8 484.5L331.3 460.5L347.3 436.4L364 412.4L381.3 388.3L395.5 369.1L413.8 345.1L432.7 321L452.2 297" fill="none" stroke="#f79a9a" stroke-width="5.0" stroke-linejoin="round" />
<path d="M313.2 484.5L328.7 460.5L344.7 436.4L361.4 412.4L378.7 388.3L392.9 369.1L411.2 345.1L430.1 321L449.6 297" fill="none" stroke="#f0474b" stroke-width="4.6" stroke-linejoin="round" />
</g>
<path d="M284.3 480.5h3.2M284.3 467.16h1.8M284.3 459.36h1.8M284.3 453.83h1.8M284.3 449.54h1.8M284.3 446.03h1.8M284.3 443.06h1.8M284.3 440.49h1.8M284.3 438.23h1.8M284.3 436.2h3.2M284.3 422.86h1.8M284.3 415.06h1.8M284.3 409.53h1.8M284.3 405.24h1.8M284.3 401.73h1.8M284.3 398.76h1.8M284.3 396.19h1.8M284.3 393.93h1.8M284.3 391.9h3.2M284.3 378.56h1.8M284.3 370.76h1.8M284.3 365.23h1.8M284.3 360.94h1.8M284.3 357.43h1.8M284.3 354.46h1.8M284.3 351.89h1.8M284.3 349.63h1.8M284.3 347.6h3.2M284.3 334.26h1.8M284.3 326.46h1.8M284.3 320.93h1.8M284.3 316.64h1.8M284.3 313.13h1.8M284.3 310.16h1.8M284.3 307.59h1.8M284.3 305.33h1.8M284.3 303.3h3.2" stroke="#000" stroke-width="1.0" fill="none"/>
<path d="M284.3 480.5v-3M338.2 480.5v-3M392.1 480.5v-3M446 480.5v-3" stroke="#000" stroke-width="1.0" fill="none"/>
<rect x="284.3" y="303.3" width="161.7" height="177.2" fill="none" stroke="#000" stroke-width="1.5"/>
<text x="281.2" y="308.2" font-size="11.3" text-anchor="end" fill="#000">10<tspan font-size="7.68" dy="-5.79">-3</tspan></text>
<text x="281.2" y="396.8" font-size="11.3" text-anchor="end" fill="#000">10<tspan font-size="7.68" dy="-5.79">-5</tspan></text>
<text x="281.2" y="485.4" font-size="11.3" text-anchor="end" fill="#000">10<tspan font-size="7.68" dy="-5.79">-7</tspan></text>
<text x="284.3" y="493.1" font-size="12.2" text-anchor="middle" fill="#000" font-weight="normal" font-style="normal" >-0.3</text>
<text x="338.2" y="493.1" font-size="12.2" text-anchor="middle" fill="#000" font-weight="normal" font-style="normal" >-0.2</text>
<text x="392.1" y="493.1" font-size="12.2" text-anchor="middle" fill="#000" font-weight="normal" font-style="normal" >-0.1</text>
<text x="446" y="493.1" font-size="12.2" text-anchor="middle" fill="#000" font-weight="normal" font-style="normal" >0.0</text>
<text x="291.3" y="316.3" font-size="10" fill="#f26a6c" text-anchor="start">MoS<tspan font-size="7" dy="2.5">2</tspan><tspan dy="-2.5"> nFET</tspan></text>
<path d="M291 327.9H311" stroke="#ee3b3f" stroke-width="2"/>
<text x="315" y="330.8" font-size="8.4" text-anchor="start" fill="#222" font-weight="normal" font-style="normal" >0.010 V/s</text>
<path d="M291 338.4H311" stroke="#f04a4e" stroke-width="2"/>
<text x="315" y="341.3" font-size="8.4" text-anchor="start" fill="#222" font-weight="normal" font-style="normal" >0.025 V/s</text>
<path d="M291 349H311" stroke="#f7a5a5" stroke-width="2"/>
<text x="315" y="351.9" font-size="8.4" text-anchor="start" fill="#222" font-weight="normal" font-style="normal" >0.050 V/s</text>
<path d="M291 359.5H311" stroke="#f7b0b0" stroke-width="2"/>
<text x="315" y="362.4" font-size="8.4" text-anchor="start" fill="#222" font-weight="normal" font-style="normal" >0.100 V/s</text>
<path d="M379 368.6L387.73 356.72" stroke="#111" stroke-width="1.4" fill="none"/>
<path d="M389.8 353.9L389.07 358.95L387.85 356.56L385.2 356.11Z" fill="#111"/>
<path d="M410.3 361.6L402.32 372.85" stroke="#111" stroke-width="1.4" fill="none"/>
<path d="M400.3 375.7L400.95 370.64L402.21 373.01L404.86 373.42Z" fill="#111"/>
<rect x="360.3" y="406.4" width="9.3" height="9.3" fill="none" stroke="#12344e" stroke-width="1.1" stroke-dasharray="2.4 1.4"/>
<path d="M369.6 406.4L387.6 401.8M369.6 415.7L387.6 472.1" stroke="#111" stroke-width="1" stroke-dasharray="3 2" fill="none"/>
<rect x="387.6" y="401.8" width="54.5" height="70.3" fill="#fff" stroke="#000" stroke-width="1.3"/>
<path d="M393.8 472.1v-1.8M414.85 472.1v-1.8M435.9 472.1v-1.8M387.6 419.38h1.5M387.6 436.95h1.5M387.6 454.53h1.5" stroke="#000" stroke-width="0.8"/>
<text x="393.8" y="478.1" font-size="6.0" text-anchor="middle" fill="#111" font-weight="normal" font-style="normal" stroke="#111" stroke-width="0.15">-0.16</text>
<text x="414.85" y="478.1" font-size="6.0" text-anchor="middle" fill="#111" font-weight="normal" font-style="normal" stroke="#111" stroke-width="0.15">-0.15</text>
<text x="435.9" y="478.1" font-size="6.0" text-anchor="middle" fill="#111" font-weight="normal" font-style="normal" stroke="#111" stroke-width="0.15">-0.14</text>
<path d="M401.5 472C401.92 469.17 403.15 460.58 404 455C404.85 449.42 405.47 444.33 406.6 438.5C407.73 432.67 409.12 426.08 410.8 420C412.48 413.92 415.72 405 416.7 402" fill="none" stroke="#f04448" stroke-width="1.2" />
<path d="M407.9 472C408.32 469.17 409.55 460.58 410.4 455C411.25 449.42 411.83 444.33 413 438.5C414.17 432.67 415.65 426.08 417.4 420C419.15 413.92 422.48 405 423.5 402" fill="none" stroke="#f04448" stroke-width="1.2" />
<path d="M396.6 438.5L403.4 438.5" stroke="#111" stroke-width="1.3" fill="none"/>
<path d="M406.6 438.5L402.4 440.9L403.6 438.5L402.4 436.1Z" fill="#111"/>
<path d="M424.3 438.5L417.6 438.5" stroke="#111" stroke-width="1.3" fill="none"/>
<path d="M414.4 438.5L418.6 436.1L417.4 438.5L418.6 440.9Z" fill="#111"/>
<text x="411.9" y="455.8" font-size="9.5" text-anchor="start" fill="#222" font-weight="normal" font-style="normal" >~ 3 mV</text>
<text x="390.8" y="397.6" font-size="9" text-anchor="start" fill="#222" font-weight="normal" font-style="normal" >@ 0.010 V/s</text>
<text x="365.15" y="520.8" font-size="12.5" text-anchor="middle"><tspan font-style="italic">V</tspan><tspan font-size="8.5" dy="2.5">GS</tspan><tspan dy="-2.5"> (V)</tspan></text>
<text transform="translate(243.9 392.4) rotate(-90)" font-size="13.3" text-anchor="middle"><tspan font-style="italic">I</tspan><tspan font-size="9.04" dy="2.5">DS</tspan><tspan dy="-2.5"> (µA/µm)</tspan></text>
<text x="234.6" y="557.3" font-size="16" text-anchor="start" fill="#000" font-weight="bold" font-style="normal" >h</text>
<clipPath id="cliph"><rect x="284" y="560.6" width="160.5" height="177.1"/></clipPath>
<g clip-path="url(#cliph)">
<path d="M308.3 741.8L343.1 695.3L376.9 648.8L406.4 607L438.2 560.5" fill="none" stroke="#f8b4b4" stroke-width="6.2" stroke-linejoin="round" />
<path d="M309.9 741.8L344.7 695.3L378.5 648.8L408 607L439.8 560.5" fill="none" stroke="#f58a8a" stroke-width="4.0" stroke-linejoin="round" />
<path d="M310.7 741.8L345.5 695.3L379.3 648.8L408.8 607L440.6 560.5" fill="none" stroke="#f04e52" stroke-width="2.2" stroke-linejoin="round" />
</g>
<path d="M284 737.7h3.2M284 724.37h1.8M284 716.58h1.8M284 711.04h1.8M284 706.75h1.8M284 703.25h1.8M284 700.28h1.8M284 697.72h1.8M284 695.45h1.8M284 693.43h3.2M284 680.1h1.8M284 672.3h1.8M284 666.77h1.8M284 662.48h1.8M284 658.97h1.8M284 656.01h1.8M284 653.44h1.8M284 651.18h1.8M284 649.15h3.2M284 635.82h1.8M284 628.03h1.8M284 622.49h1.8M284 618.2h1.8M284 614.7h1.8M284 611.73h1.8M284 609.17h1.8M284 606.9h1.8M284 604.88h3.2M284 591.55h1.8M284 583.75h1.8M284 578.22h1.8M284 573.93h1.8M284 570.42h1.8M284 567.46h1.8M284 564.89h1.8M284 562.63h1.8M284 560.6h3.2" stroke="#000" stroke-width="1.0" fill="none"/>
<path d="M284 737.7v-3M337.5 737.7v-3M391 737.7v-3M444.5 737.7v-3" stroke="#000" stroke-width="1.0" fill="none"/>
<rect x="284" y="560.6" width="160.5" height="177.1" fill="none" stroke="#000" stroke-width="1.5"/>
<text x="280.9" y="565.5" font-size="11.3" text-anchor="end" fill="#000">10<tspan font-size="7.68" dy="-5.79">-3</tspan></text>
<text x="280.9" y="654.05" font-size="11.3" text-anchor="end" fill="#000">10<tspan font-size="7.68" dy="-5.79">-5</tspan></text>
<text x="280.9" y="742.6" font-size="11.3" text-anchor="end" fill="#000">10<tspan font-size="7.68" dy="-5.79">-7</tspan></text>
<text x="284" y="750.3" font-size="12.2" text-anchor="middle" fill="#000" font-weight="normal" font-style="normal" >-0.3</text>
<text x="337.5" y="750.3" font-size="12.2" text-anchor="middle" fill="#000" font-weight="normal" font-style="normal" >-0.2</text>
<text x="391" y="750.3" font-size="12.2" text-anchor="middle" fill="#000" font-weight="normal" font-style="normal" >-0.1</text>
<text x="444.5" y="750.3" font-size="12.2" text-anchor="middle" fill="#000" font-weight="normal" font-style="normal" >0.0</text>
<text x="291" y="573.6" font-size="10" fill="#f26a6c" text-anchor="start">MoS<tspan font-size="7" dy="2.5">2</tspan><tspan dy="-2.5"> nFET</tspan></text>
<path d="M291 585.1H311" stroke="#ee3b3f" stroke-width="2"/>
<text x="315" y="588" font-size="8.4" text-anchor="start" fill="#222" font-weight="normal" font-style="normal" >-0.5 to 0.8 V</text>
<path d="M291 595.3H311" stroke="#f04a4e" stroke-width="2"/>
<text x="315" y="598.2" font-size="8.4" text-anchor="start" fill="#222" font-weight="normal" font-style="normal" >-0.5 to 0.6 V</text>
<path d="M291 605.5H311" stroke="#f27b7d" stroke-width="2"/>
<text x="315" y="608.4" font-size="8.4" text-anchor="start" fill="#222" font-weight="normal" font-style="normal" >-0.5 to 0.4 V</text>
<path d="M291 615.9H311" stroke="#f7b0b0" stroke-width="2"/>
<text x="315" y="618.8" font-size="8.4" text-anchor="start" fill="#222" font-weight="normal" font-style="normal" >-0.5 to 0.2 V</text>
<path d="M382 620.2L389.83 609.52" stroke="#111" stroke-width="1.4" fill="none"/>
<path d="M391.9 606.7L391.17 611.75L389.95 609.36L387.3 608.91Z" fill="#111"/>
<path d="M412.8 614.3L405.79 624.42" stroke="#111" stroke-width="1.4" fill="none"/>
<path d="M403.8 627.3L404.39 622.23L405.68 624.59L408.33 624.97Z" fill="#111"/>
<rect x="360.3" y="664.3" width="9" height="9" fill="none" stroke="#12344e" stroke-width="1.1" stroke-dasharray="2.4 1.4"/>
<path d="M369.3 664.3L387.9 657.3M369.3 673.3L387.9 725.3" stroke="#111" stroke-width="1" stroke-dasharray="3 2" fill="none"/>
<rect x="387.9" y="657.3" width="52.4" height="68" fill="#fff" stroke="#000" stroke-width="1.3"/>
<path d="M394.1 725.3v-1.8M414.1 725.3v-1.8M434.1 725.3v-1.8M387.9 674.3h1.5M387.9 691.3h1.5M387.9 708.3h1.5" stroke="#000" stroke-width="0.8"/>
<text x="394.1" y="731.3" font-size="6.0" text-anchor="middle" fill="#111" font-weight="normal" font-style="normal" stroke="#111" stroke-width="0.15">-0.16</text>
<text x="414.1" y="731.3" font-size="6.0" text-anchor="middle" fill="#111" font-weight="normal" font-style="normal" stroke="#111" stroke-width="0.15">-0.15</text>
<text x="434.1" y="731.3" font-size="6.0" text-anchor="middle" fill="#111" font-weight="normal" font-style="normal" stroke="#111" stroke-width="0.15">-0.14</text>
<path d="M403.8 725C404.22 722.5 405.42 714.8 406.3 710C407.18 705.2 407.85 701.7 409.1 696.2C410.35 690.7 411.9 683.48 413.8 677C415.7 670.52 419.38 660.58 420.5 657.3" fill="none" stroke="#f04448" stroke-width="1.2" />
<path d="M410.5 725C410.92 722.5 412.12 714.8 413 710C413.88 705.2 414.53 701.7 415.8 696.2C417.07 690.7 418.67 683.48 420.6 677C422.53 670.52 426.27 660.58 427.4 657.3" fill="none" stroke="#f04448" stroke-width="1.2" />
<path d="M398.7 696.2L405.6 696.2" stroke="#111" stroke-width="1.3" fill="none"/>
<path d="M408.8 696.2L404.6 698.6L405.8 696.2L404.6 693.8Z" fill="#111"/>
<path d="M427.8 696.2L420.3 696.2" stroke="#111" stroke-width="1.3" fill="none"/>
<path d="M417.1 696.2L421.3 693.8L420.1 696.2L421.3 698.6Z" fill="#111"/>
<text x="412.6" y="716.3" font-size="9.5" text-anchor="start" fill="#222" font-weight="normal" font-style="normal" >~ 3 mV</text>
<text x="382" y="652.8" font-size="9" text-anchor="start" fill="#222" font-weight="normal" font-style="normal" >@ -0.5 to 0.8 V</text>
<text x="364.25" y="778.2" font-size="12.5" text-anchor="middle"><tspan font-style="italic">V</tspan><tspan font-size="8.5" dy="2.5">GS</tspan><tspan dy="-2.5"> (V)</tspan></text>
<text transform="translate(243.6 649.65) rotate(-90)" font-size="13.3" text-anchor="middle"><tspan font-style="italic">I</tspan><tspan font-size="9.04" dy="2.5">DS</tspan><tspan dy="-2.5"> (µA/µm)</tspan></text>
<text x="470.4" y="305" font-size="16" text-anchor="start" fill="#000" font-weight="bold" font-style="normal" >f</text>
<clipPath id="clipf"><rect x="515.4" y="303.2" width="161.9" height="177.1"/></clipPath>
<g clip-path="url(#clipf)">
<path d="M512.1 299.5L530.3 318.5L547.3 337.4L563.2 356.4L581.8 380.1L595.9 399.1L612.5 422.8L631.5 451.3L653 484.5" fill="none" stroke="#b9bcf6" stroke-width="4.4" stroke-linejoin="round" />
<path d="M514.6 299.5L532.8 318.5L549.8 337.4L565.7 356.4L584.3 380.1L598.4 399.1L615 422.8L634 451.3L655.5 484.5" fill="none" stroke="#4347ea" stroke-width="3.6" stroke-linejoin="round" />
</g>
<path d="M515.4 480.3h3.2M515.4 466.97h1.8M515.4 459.18h1.8M515.4 453.64h1.8M515.4 449.35h1.8M515.4 445.85h1.8M515.4 442.88h1.8M515.4 440.32h1.8M515.4 438.05h1.8M515.4 436.02h3.2M515.4 422.7h1.8M515.4 414.9h1.8M515.4 409.37h1.8M515.4 405.08h1.8M515.4 401.57h1.8M515.4 398.61h1.8M515.4 396.04h1.8M515.4 393.78h1.8M515.4 391.75h3.2M515.4 378.42h1.8M515.4 370.63h1.8M515.4 365.09h1.8M515.4 360.8h1.8M515.4 357.3h1.8M515.4 354.33h1.8M515.4 351.77h1.8M515.4 349.5h1.8M515.4 347.48h3.2M515.4 334.15h1.8M515.4 326.35h1.8M515.4 320.82h1.8M515.4 316.53h1.8M515.4 313.02h1.8M515.4 310.06h1.8M515.4 307.49h1.8M515.4 305.23h1.8M515.4 303.2h3.2" stroke="#000" stroke-width="1.0" fill="none"/>
<path d="M515.4 480.3v-3M569.37 480.3v-3M623.33 480.3v-3M677.3 480.3v-3" stroke="#000" stroke-width="1.0" fill="none"/>
<rect x="515.4" y="303.2" width="161.9" height="177.1" fill="none" stroke="#000" stroke-width="1.5"/>
<text x="512.3" y="308.1" font-size="11.3" text-anchor="end" fill="#000">10<tspan font-size="7.68" dy="-5.79">-3</tspan></text>
<text x="512.3" y="396.65" font-size="11.3" text-anchor="end" fill="#000">10<tspan font-size="7.68" dy="-5.79">-5</tspan></text>
<text x="512.3" y="485.2" font-size="11.3" text-anchor="end" fill="#000">10<tspan font-size="7.68" dy="-5.79">-7</tspan></text>
<text x="515.4" y="492.9" font-size="12.2" text-anchor="middle" fill="#000" font-weight="normal" font-style="normal" >0.0</text>
<text x="569.37" y="492.9" font-size="12.2" text-anchor="middle" fill="#000" font-weight="normal" font-style="normal" >0.1</text>
<text x="623.33" y="492.9" font-size="12.2" text-anchor="middle" fill="#000" font-weight="normal" font-style="normal" >0.2</text>
<text x="677.3" y="492.9" font-size="12.2" text-anchor="middle" fill="#000" font-weight="normal" font-style="normal" >0.3</text>
<text x="671.8" y="315.3" font-size="10" fill="#6b8cf2" text-anchor="end">WSe<tspan font-size="7" dy="2.5">2</tspan><tspan dy="-2.5"> pFET</tspan></text>
<path d="M610.1 327H629.6" stroke="#3c40e6" stroke-width="2"/>
<text x="634" y="329.9" font-size="8.4" text-anchor="start" fill="#222" font-weight="normal" font-style="normal" >0.010 V/s</text>
<path d="M610.1 337.3H629.6" stroke="#5a5eea" stroke-width="2"/>
<text x="634" y="340.2" font-size="8.4" text-anchor="start" fill="#222" font-weight="normal" font-style="normal" >0.025 V/s</text>
<path d="M610.1 347.6H629.6" stroke="#c8caf6" stroke-width="2"/>
<text x="634" y="350.5" font-size="8.4" text-anchor="start" fill="#222" font-weight="normal" font-style="normal" >0.050 V/s</text>
<path d="M610.1 357.9H629.6" stroke="#c4c6f4" stroke-width="2"/>
<text x="634" y="360.8" font-size="8.4" text-anchor="start" fill="#222" font-weight="normal" font-style="normal" >0.100 V/s</text>
<path d="M552.7 360.7L559.87 370.75" stroke="#111" stroke-width="1.4" fill="none"/>
<path d="M561.9 373.6L557.33 371.33L559.98 370.91L561.24 368.54Z" fill="#111"/>
<path d="M583.6 366.6L576 355.67" stroke="#111" stroke-width="1.4" fill="none"/>
<path d="M574 352.8L578.54 355.12L575.88 355.51L574.6 357.86Z" fill="#111"/>
<rect x="595.4" y="406.6" width="9.7" height="8.9" fill="none" stroke="#12344e" stroke-width="1.1" stroke-dasharray="2.4 1.4"/>
<path d="M595.4 406.6L576.3 401.7M595.4 415.5L576.3 472.4" stroke="#111" stroke-width="1" stroke-dasharray="3 2" fill="none"/>
<rect x="521.4" y="401.7" width="54.9" height="70.7" fill="#fff" stroke="#000" stroke-width="1.3"/>
<path d="M526.7 472.4v-1.8M548.85 472.4v-1.8M571 472.4v-1.8M521.4 419.38h1.5M521.4 437.05h1.5M521.4 454.72h1.5" stroke="#000" stroke-width="0.8"/>
<text x="526.7" y="478.4" font-size="6.0" text-anchor="middle" fill="#111" font-weight="normal" font-style="normal" stroke="#111" stroke-width="0.15">0.14</text>
<text x="548.85" y="478.4" font-size="6.0" text-anchor="middle" fill="#111" font-weight="normal" font-style="normal" stroke="#111" stroke-width="0.15">0.15</text>
<text x="571" y="478.4" font-size="6.0" text-anchor="middle" fill="#111" font-weight="normal" font-style="normal" stroke="#111" stroke-width="0.15">0.16</text>
<path d="M545 401.7C546.25 404.92 550.33 414.87 552.5 421C554.67 427.13 556.5 432.83 558 438.5C559.5 444.17 560.58 449.35 561.5 455C562.42 460.65 563.17 469.5 563.5 472.4" fill="none" stroke="#4a4ee8" stroke-width="1.2" />
<path d="M551.9 401.7C553.15 404.92 557.23 414.87 559.4 421C561.57 427.13 563.4 432.83 564.9 438.5C566.4 444.17 567.48 449.35 568.4 455C569.32 460.65 570.07 469.5 570.4 472.4" fill="none" stroke="#4a4ee8" stroke-width="1.2" />
<path d="M545 438.5L553.4 438.5" stroke="#111" stroke-width="1.3" fill="none"/>
<path d="M556.6 438.5L552.4 440.9L553.6 438.5L552.4 436.1Z" fill="#111"/>
<path d="M574 438.5L566.2 438.5" stroke="#111" stroke-width="1.3" fill="none"/>
<path d="M563 438.5L567.2 436.1L566 438.5L567.2 440.9Z" fill="#111"/>
<text x="525" y="455" font-size="9.5" text-anchor="start" fill="#222" font-weight="normal" font-style="normal" >~ 3 mV</text>
<text x="524.1" y="397.2" font-size="9" text-anchor="start" fill="#222" font-weight="normal" font-style="normal" >@ 0.010 V/s</text>
<text x="596.35" y="521" font-size="12.5" text-anchor="middle"><tspan font-style="italic">V</tspan><tspan font-size="8.5" dy="2.5">GS</tspan><tspan dy="-2.5"> (V)</tspan></text>
<text transform="translate(475 392.25) rotate(-90)" font-size="13.3" text-anchor="middle"><tspan font-style="italic">I</tspan><tspan font-size="9.04" dy="2.5">DS</tspan><tspan dy="-2.5"> (µA/µm)</tspan></text>
<text x="469" y="557.5" font-size="16" text-anchor="start" fill="#000" font-weight="bold" font-style="normal" >i</text>
<clipPath id="clipi"><rect x="516.7" y="560.3" width="161.4" height="176.3"/></clipPath>
<g clip-path="url(#clipi)">
<path d="M524.4 556L540.4 574.9L555.5 593.9L569.9 612.8L587 636.5L603.1 660.1L618.6 683.8L633.6 707.5L654 740.6" fill="none" stroke="#c6c8f6" stroke-width="4.4" stroke-linejoin="round" />
<path d="M521.8 556L537.8 574.9L552.9 593.9L567.3 612.8L584.4 636.5L600.5 660.1L616 683.8L631 707.5L651.4 740.6" fill="none" stroke="#4246ea" stroke-width="2.2" stroke-linejoin="round" />
</g>
<path d="M516.7 736.6h3.2M516.7 723.33h1.8M516.7 715.57h1.8M516.7 710.06h1.8M516.7 705.79h1.8M516.7 702.3h1.8M516.7 699.35h1.8M516.7 696.8h1.8M516.7 694.54h1.8M516.7 692.52h3.2M516.7 679.26h1.8M516.7 671.5h1.8M516.7 665.99h1.8M516.7 661.72h1.8M516.7 658.23h1.8M516.7 655.28h1.8M516.7 652.72h1.8M516.7 650.47h1.8M516.7 648.45h3.2M516.7 635.18h1.8M516.7 627.42h1.8M516.7 621.91h1.8M516.7 617.64h1.8M516.7 614.15h1.8M516.7 611.2h1.8M516.7 608.65h1.8M516.7 606.39h1.8M516.7 604.38h3.2M516.7 591.11h1.8M516.7 583.35h1.8M516.7 577.84h1.8M516.7 573.57h1.8M516.7 570.08h1.8M516.7 567.13h1.8M516.7 564.57h1.8M516.7 562.32h1.8M516.7 560.3h3.2" stroke="#000" stroke-width="1.0" fill="none"/>
<path d="M516.7 736.6v-3M570.5 736.6v-3M624.3 736.6v-3M678.1 736.6v-3" stroke="#000" stroke-width="1.0" fill="none"/>
<rect x="516.7" y="560.3" width="161.4" height="176.3" fill="none" stroke="#000" stroke-width="1.5"/>
<text x="513.6" y="565.2" font-size="11.3" text-anchor="end" fill="#000">10<tspan font-size="7.68" dy="-5.79">-3</tspan></text>
<text x="513.6" y="653.35" font-size="11.3" text-anchor="end" fill="#000">10<tspan font-size="7.68" dy="-5.79">-5</tspan></text>
<text x="513.6" y="741.5" font-size="11.3" text-anchor="end" fill="#000">10<tspan font-size="7.68" dy="-5.79">-7</tspan></text>
<text x="516.7" y="749.2" font-size="12.2" text-anchor="middle" fill="#000" font-weight="normal" font-style="normal" >0.0</text>
<text x="570.5" y="749.2" font-size="12.2" text-anchor="middle" fill="#000" font-weight="normal" font-style="normal" >0.1</text>
<text x="624.3" y="749.2" font-size="12.2" text-anchor="middle" fill="#000" font-weight="normal" font-style="normal" >0.2</text>
<text x="678.1" y="749.2" font-size="12.2" text-anchor="middle" fill="#000" font-weight="normal" font-style="normal" >0.3</text>
<text x="672.6" y="572.8" font-size="10" fill="#6b8cf2" text-anchor="end">WSe<tspan font-size="7" dy="2.5">2</tspan><tspan dy="-2.5"> pFET</tspan></text>
<path d="M600.8 585.3H620.5" stroke="#3c40e6" stroke-width="2"/>
<text x="624.5" y="588.2" font-size="8.4" text-anchor="start" fill="#222" font-weight="normal" font-style="normal" >0.5 to -0.8 V</text>
<path d="M600.8 595.8H620.5" stroke="#4a4ee8" stroke-width="2"/>
<text x="624.5" y="598.7" font-size="8.4" text-anchor="start" fill="#222" font-weight="normal" font-style="normal" >0.5 to -0.6 V</text>
<path d="M600.8 606H620.5" stroke="#6f72ea" stroke-width="2"/>
<text x="624.5" y="608.9" font-size="8.4" text-anchor="start" fill="#222" font-weight="normal" font-style="normal" >0.5 to -0.4 V</text>
<path d="M600.8 616.6H620.5" stroke="#c4c6f4" stroke-width="2"/>
<text x="624.5" y="619.5" font-size="8.4" text-anchor="start" fill="#222" font-weight="normal" font-style="normal" >0.5 to -0.2 V</text>
<path d="M555.3 610L562.1 619.73" stroke="#111" stroke-width="1.4" fill="none"/>
<path d="M564.1 622.6L559.56 620.28L562.21 619.89L563.49 617.54Z" fill="#111"/>
<path d="M585.6 616.2L578.17 605.29" stroke="#111" stroke-width="1.4" fill="none"/>
<path d="M576.2 602.4L580.72 604.77L578.06 605.13L576.75 607.47Z" fill="#111"/>
<rect x="599" y="664.4" width="9.2" height="9.4" fill="none" stroke="#12344e" stroke-width="1.1" stroke-dasharray="2.4 1.4"/>
<path d="M599 664.4L575.4 655.7M599 673.8L575.4 727.3" stroke="#111" stroke-width="1" stroke-dasharray="3 2" fill="none"/>
<rect x="523.3" y="655.7" width="52.1" height="71.6" fill="#fff" stroke="#000" stroke-width="1.3"/>
<path d="M528.6 727.3v-1.8M549.35 727.3v-1.8M570.1 727.3v-1.8M523.3 673.6h1.5M523.3 691.5h1.5M523.3 709.4h1.5" stroke="#000" stroke-width="0.8"/>
<text x="528.6" y="733.3" font-size="6.0" text-anchor="middle" fill="#111" font-weight="normal" font-style="normal" stroke="#111" stroke-width="0.15">0.14</text>
<text x="549.35" y="733.3" font-size="6.0" text-anchor="middle" fill="#111" font-weight="normal" font-style="normal" stroke="#111" stroke-width="0.15">0.15</text>
<text x="570.1" y="733.3" font-size="6.0" text-anchor="middle" fill="#111" font-weight="normal" font-style="normal" stroke="#111" stroke-width="0.15">0.16</text>
<path d="M538.7 655.7C540 659.08 544.25 669.52 546.5 676C548.75 682.48 550.58 688.77 552.2 694.6C553.82 700.43 555.17 705.55 556.2 711C557.23 716.45 558.03 724.58 558.4 727.3" fill="none" stroke="#4a4ee8" stroke-width="1.2" />
<path d="M545.3 655.7C546.6 659.08 550.85 669.52 553.1 676C555.35 682.48 557.18 688.77 558.8 694.6C560.42 700.43 561.77 705.55 562.8 711C563.83 716.45 564.63 724.58 565 727.3" fill="none" stroke="#4a4ee8" stroke-width="1.2" />
<path d="M540 694.6L547.3 694.6" stroke="#111" stroke-width="1.3" fill="none"/>
<path d="M550.5 694.6L546.3 697L547.5 694.6L546.3 692.2Z" fill="#111"/>
<path d="M569.3 694.6L562 694.6" stroke="#111" stroke-width="1.3" fill="none"/>
<path d="M558.8 694.6L563 692.2L561.8 694.6L563 697Z" fill="#111"/>
<text x="525" y="713.3" font-size="9.5" text-anchor="start" fill="#222" font-weight="normal" font-style="normal" >~ 3 mV</text>
<text x="520.9" y="651" font-size="9" text-anchor="start" fill="#222" font-weight="normal" font-style="normal" >@ 0.5 to -0.8 V</text>
<text x="598.6" y="777.5" font-size="12.5" text-anchor="middle"><tspan font-style="italic">V</tspan><tspan font-size="8.5" dy="2.5">GS</tspan><tspan dy="-2.5"> (V)</tspan></text>
<text transform="translate(476.3 648.95) rotate(-90)" font-size="13.3" text-anchor="middle"><tspan font-style="italic">I</tspan><tspan font-size="9.04" dy="2.5">DS</tspan><tspan dy="-2.5"> (µA/µm)</tspan></text>
</svg></body></html>
